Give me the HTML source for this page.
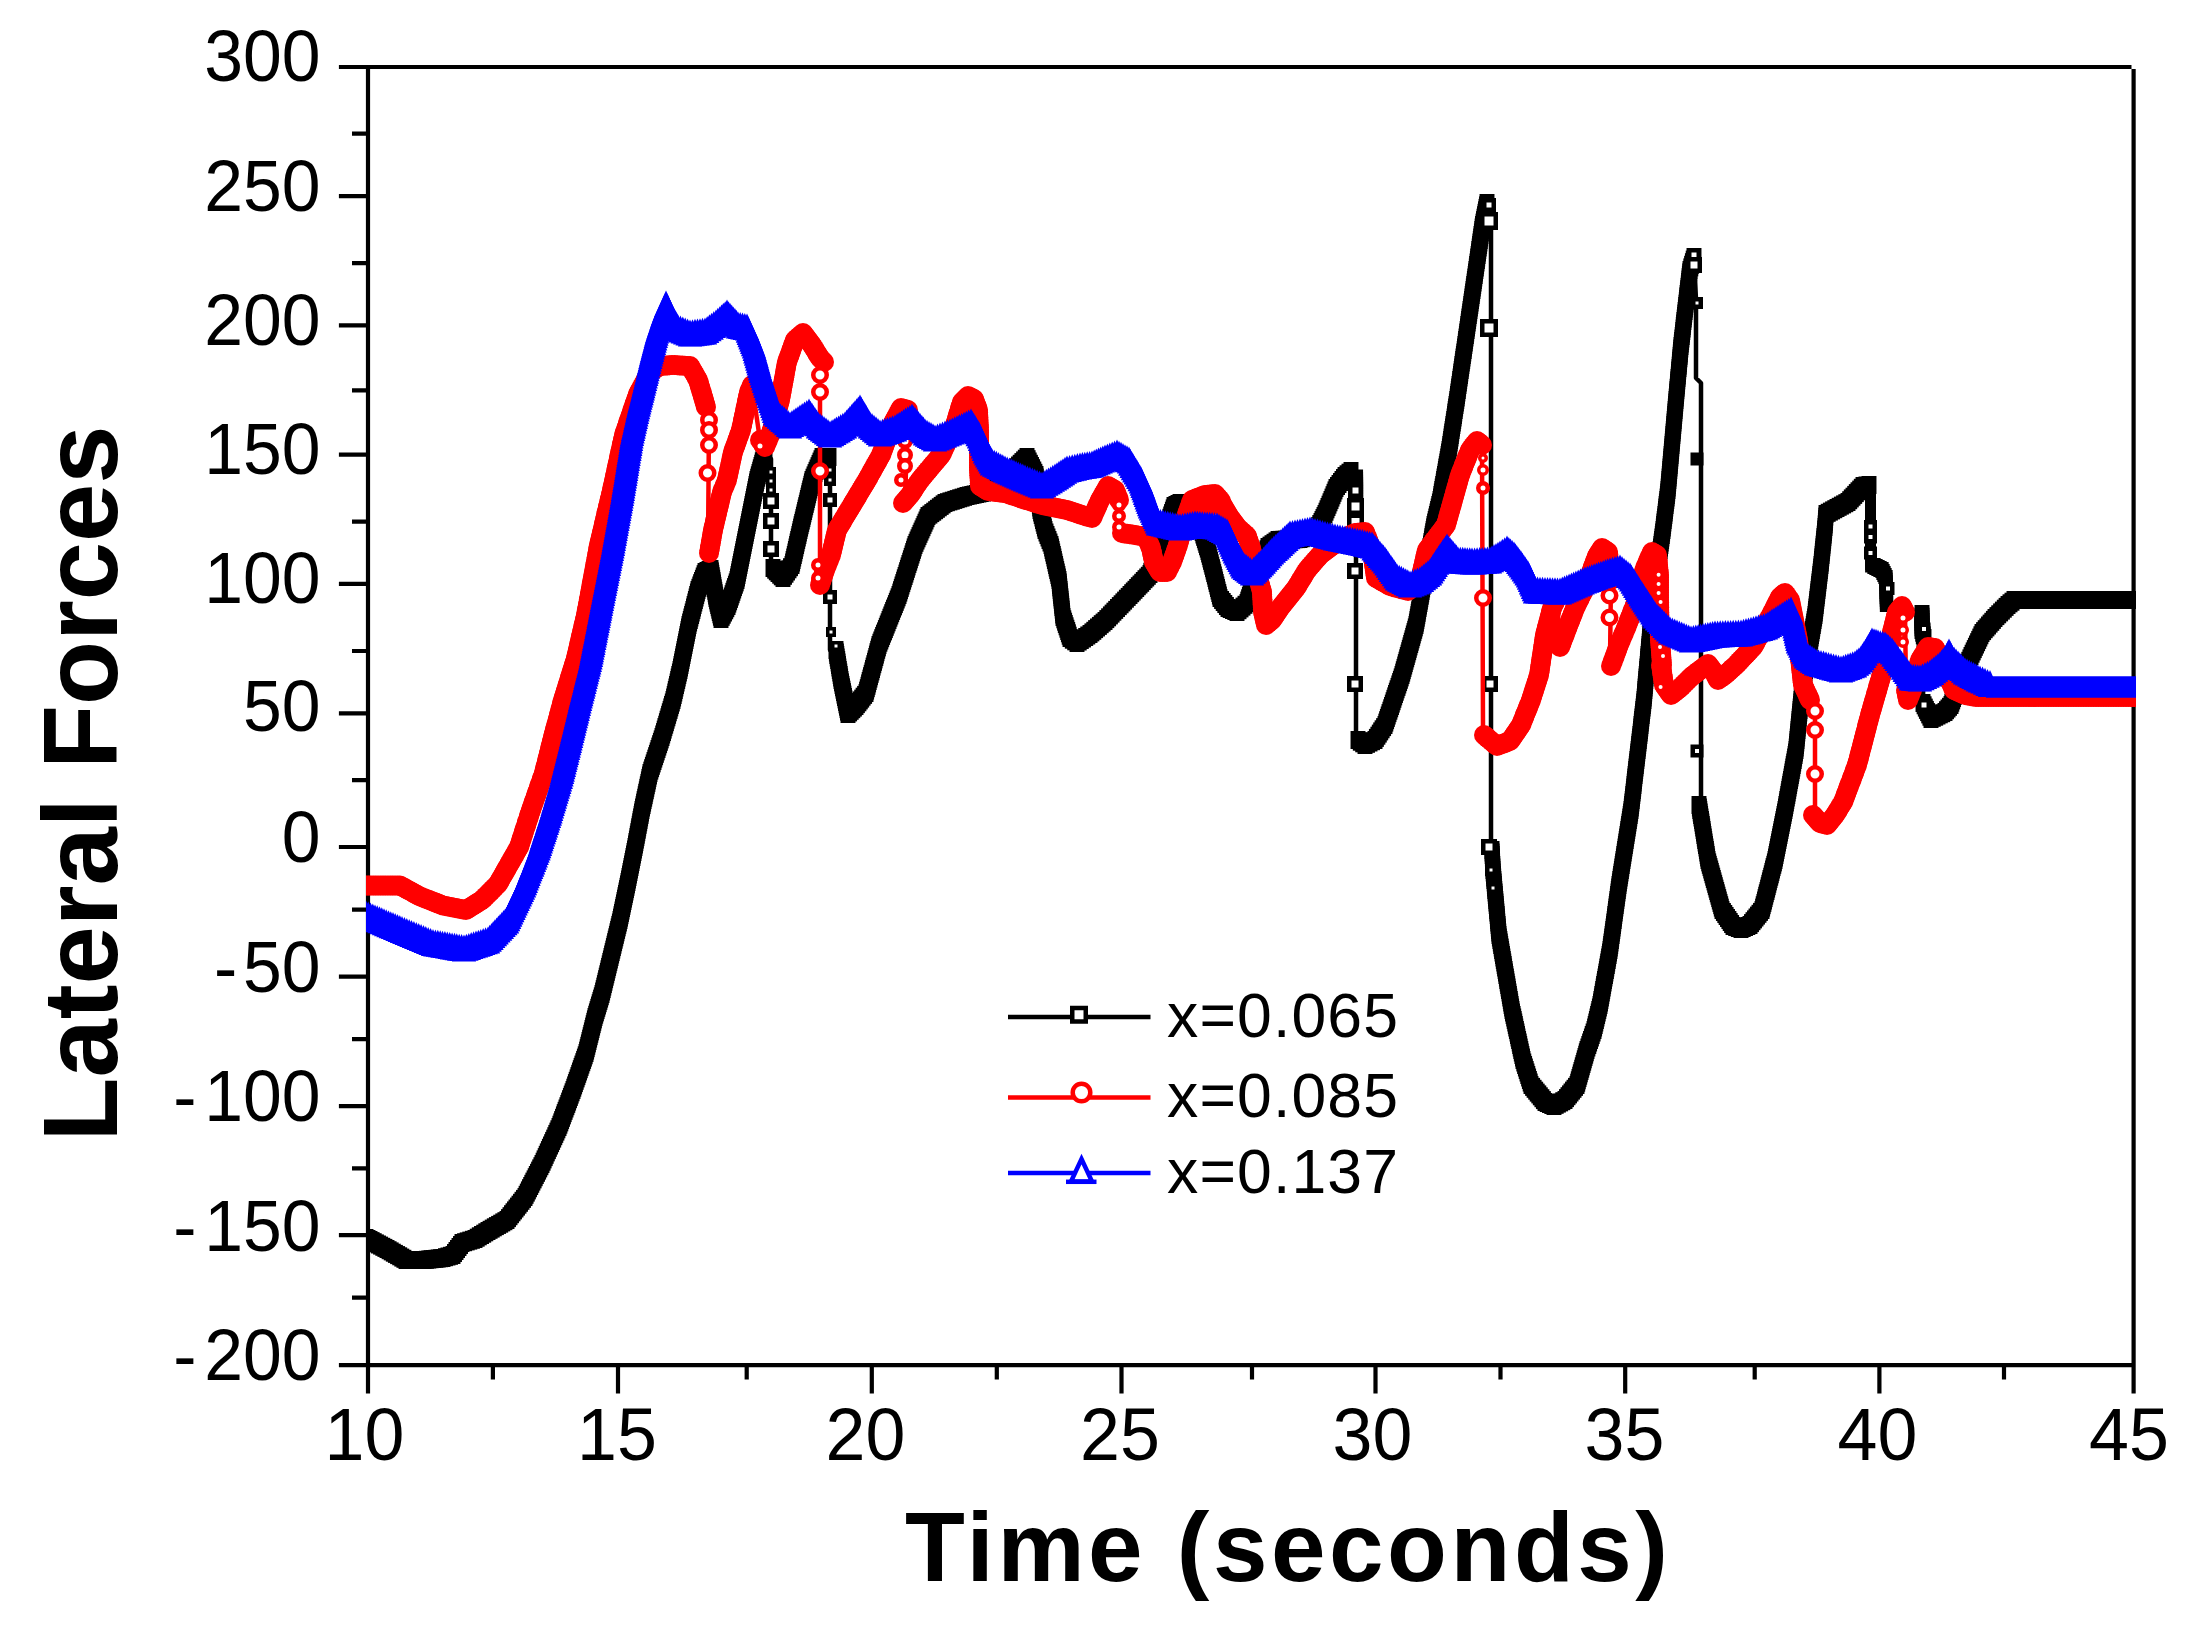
<!DOCTYPE html>
<html lang="en"><head><meta charset="utf-8"><title>Lateral Forces vs Time</title>
<style>html,body{margin:0;padding:0;background:#fff}svg{display:block}text{font-family:"Liberation Sans",sans-serif;fill:#000}</style></head><body>
<svg width="2188" height="1634" viewBox="0 0 2188 1634">
<rect width="2188" height="1634" fill="#fff"/>
<defs><clipPath id="pc"><rect x="365.9" y="60" width="1770.1" height="1310"/></clipPath></defs>
<defs><marker id="k18" markerUnits="userSpaceOnUse" markerWidth="20" markerHeight="20" viewBox="-10 -10 20 20" refX="0" refY="0" orient="0" overflow="visible"><rect x="-7.47" y="-9" width="14.94" height="18" fill="#000"/></marker><marker id="k17" markerUnits="userSpaceOnUse" markerWidth="19" markerHeight="19" viewBox="-9.5 -9.5 19 19" refX="0" refY="0" orient="0" overflow="visible"><rect x="-7.055" y="-8.5" width="14.11" height="17" fill="#000"/></marker><marker id="k13" markerUnits="userSpaceOnUse" markerWidth="15" markerHeight="15" viewBox="-7.5 -7.5 15 15" refX="0" refY="0" orient="0" overflow="visible"><rect x="-5.395" y="-6.5" width="10.79" height="13" fill="#000"/></marker><marker id="k16" markerUnits="userSpaceOnUse" markerWidth="18" markerHeight="18" viewBox="-9 -9 18 18" refX="0" refY="0" orient="0" overflow="visible"><rect x="-6.64" y="-8" width="13.28" height="16" fill="#000"/></marker><marker id="r20" markerUnits="userSpaceOnUse" markerWidth="22" markerHeight="22" viewBox="-11 -11 22 22" refX="0" refY="0" orient="0" overflow="visible"><circle r="10" fill="#f00"/></marker><marker id="b27" markerUnits="userSpaceOnUse" markerWidth="29" markerHeight="29" viewBox="-14.5 -14.5 29 29" refX="0" refY="0" orient="0" overflow="visible"><path d="M0,-13.5 L12.15,13.5 H-12.15 Z" fill="#00f"/></marker></defs>
<g stroke="#000" stroke-width="4.2" fill="none" stroke-linecap="butt">
<path d="M338.9,67 H2131.5 M368,64.9 V1393.5 M338.9,1365.1 H2135.7 M2133.6,69 V1393.5"/>
<path d="M338.9,196.2 H368 M338.9,325.4 H368 M338.9,454.7 H368 M338.9,583.9 H368 M338.9,713.4 H368 M338.9,847 H368 M338.9,976.7 H368 M338.9,1106.2 H368 M338.9,1235.2 H368 M352,133.7 H368 M352,263.2 H368 M352,390.3 H368 M352,521.7 H368 M352,651 H368 M352,780.2 H368 M352,909.6 H368 M352,1039.2 H368 M352,1168.4 H368 M352,1297.7 H368 M618,1365 V1393.5 M871.8,1365 V1393.5 M1121.5,1365 V1393.5 M1375.5,1365 V1393.5 M1625.2,1365 V1393.5 M1879.4,1365 V1393.5 M492.9,1365 V1379.5 M746.7,1365 V1379.5 M996.8,1365 V1379.5 M1252,1365 V1379.5 M1500.5,1365 V1379.5 M1754.7,1365 V1379.5 M2004,1365 V1379.5"/>
</g>
<g clip-path="url(#pc)">
<polyline fill="none" stroke="#000" stroke-width="4.5" stroke-linejoin="round" points="366,1238 370,1240 387,1249 406,1260 424,1260 443,1258 453,1255 462,1243 475,1239 488,1231 507,1220 525,1197 542,1164 559,1127 573,1090 586,1053 595,1017 602,994 611,957 620,920 628,882 635,847 642,810 650,773 662,737 673,700 680,670 689,625 698,590 705,572 711,569 716,598 721,619 728,606 737,580 747,530 757,480 765,452 765,452 771,459 771,560 773,568 783,578 792,565 800,530 812,480 822,457 829,457 829,457 830,470 830,650 836,650 841,680 848,714 856,706 866,693 879,645 899,595 915,545 928,516 945,503 967,496 986,492 1010,474 1027,457 1036,475 1040,510 1045,530 1051,545 1059,580 1063,617 1070,638 1077,643 1090,634 1105,621 1130,595 1150,574 1165,532 1174,506 1180,503 1190,506 1200,525 1208,551 1215,578 1220,598 1228,608 1237,612 1247,603 1258,570 1268,547 1278,540 1300,539 1314,534 1321,522 1325,514 1331,500 1336,488 1345,476 1351,471 1356,478 1356,526 1356,526 1356,738 1358,740 1365,745 1375,740 1385,725 1402,675 1416,625 1434,525 1440,500 1449,450 1456.8,400 1471.5,300 1482.5,225 1487,203 1487,203 1491,215 1491,845 1492,850 1493,870 1499,935 1512,1010 1523,1060 1531,1085 1545,1102 1554,1106 1565,1100 1577,1085 1587,1050 1594,1030 1600,1005 1610,950 1619,885 1631,810 1644,700 1653,600 1663,530 1668,490 1676,400 1681,346 1685.7,306 1690,270 1694,257 1694,257 1696,300 1696,378 1701,383 1701,800 1699,805 1708,860 1722,910 1733,926 1741,929 1750,925 1762,910 1775,860 1785,810 1796,750 1802,690 1815,615 1821,565 1825,527 1826,514 1848,502 1863,486 1869,485 1870.5,490 1870.5,566 1874,566 1882,570 1886,578 1886.5,604 1887,608 1915,612 1922,614 1922,630 1924,638 1924,640 1923,700 1923,703 1931,719 1945,712 1951,705 1962,675 1971,656 1982,633 1995,618 2008,605 2014,600 2133,600"/>
<polyline fill="none" stroke="#000" stroke-width="4.5" marker-start="url(#k18)" marker-mid="url(#k18)" marker-end="url(#k18)" points="366,1238 368,1239 370,1240 372.1,1241.1 374.2,1242.2 376.4,1243.4 378.5,1244.5 380.6,1245.6 382.8,1246.8 384.9,1247.9 387,1249 389.1,1250.2 391.2,1251.4 393.3,1252.7 395.4,1253.9 397.6,1255.1 399.7,1256.3 401.8,1257.6 403.9,1258.8 406,1260 408.6,1260 411.1,1260 413.7,1260 416.3,1260 418.9,1260 421.4,1260 424,1260 426.4,1259.8 428.8,1259.5 431.1,1259.2 433.5,1259 435.9,1258.8 438.2,1258.5 440.6,1258.2 443,1258 445.5,1257.2 448,1256.5 450.5,1255.8 453,1255 454.5,1253 456,1251 457.5,1249 459,1247 460.5,1245 462,1243 464.6,1242.2 467.2,1241.4 469.8,1240.6 472.4,1239.8 475,1239 477.2,1237.7 479.3,1236.3 481.5,1235 483.7,1233.7 485.8,1232.3 488,1231 490.1,1229.8 492.2,1228.6 494.3,1227.3 496.4,1226.1 498.6,1224.9 500.7,1223.7 502.8,1222.4 504.9,1221.2 507,1220 508.5,1218.1 510,1216.2 511.5,1214.2 513,1212.3 514.5,1210.4 516,1208.5 517.5,1206.6 519,1204.7 520.5,1202.8 522,1200.8 523.5,1198.9 525,1197 526.1,1194.8 527.3,1192.6 528.4,1190.4 529.5,1188.2 530.7,1186 531.8,1183.8 532.9,1181.6 534.1,1179.4 535.2,1177.2 536.3,1175 537.5,1172.8 538.6,1170.6 539.7,1168.4 540.9,1166.2 542,1164 543.1,1161.7 544.1,1159.4 545.2,1157.1 546.2,1154.8 547.3,1152.4 548.4,1150.1 549.4,1147.8 550.5,1145.5 551.6,1143.2 552.6,1140.9 553.7,1138.6 554.8,1136.2 555.8,1133.9 556.9,1131.6 557.9,1129.3 559,1127 559.9,1124.7 560.8,1122.4 561.6,1120.1 562.5,1117.8 563.4,1115.4 564.2,1113.1 565.1,1110.8 566,1108.5 566.9,1106.2 567.8,1103.9 568.6,1101.6 569.5,1099.2 570.4,1096.9 571.2,1094.6 572.1,1092.3 573,1090 573.8,1087.7 574.6,1085.4 575.4,1083.1 576.2,1080.8 577.1,1078.4 577.9,1076.1 578.7,1073.8 579.5,1071.5 580.3,1069.2 581.1,1066.9 581.9,1064.6 582.8,1062.2 583.6,1059.9 584.4,1057.6 585.2,1055.3 586,1053 586.6,1050.6 587.2,1048.2 587.8,1045.8 588.4,1043.4 589,1041 589.6,1038.6 590.2,1036.2 590.8,1033.8 591.4,1031.4 592,1029 592.6,1026.6 593.2,1024.2 593.8,1021.8 594.4,1019.4 595,1017 595.7,1014.7 596.4,1012.4 597.1,1010.1 597.8,1007.8 598.5,1005.5 599.2,1003.2 599.9,1000.9 600.6,998.6 601.3,996.3 602,994 602.6,991.5 603.2,989.1 603.8,986.6 604.4,984.1 605,981.7 605.6,979.2 606.2,976.7 606.8,974.3 607.4,971.8 608,969.3 608.6,966.9 609.2,964.4 609.8,961.9 610.4,959.5 611,957 611.6,954.5 612.2,952.1 612.8,949.6 613.4,947.1 614,944.7 614.6,942.2 615.2,939.7 615.8,937.3 616.4,934.8 617,932.3 617.6,929.9 618.2,927.4 618.8,924.9 619.4,922.5 620,920 620.5,917.6 621,915.2 621.5,912.9 622,910.5 622.5,908.1 623,905.8 623.5,903.4 624,901 624.5,898.6 625,896.2 625.5,893.9 626,891.5 626.5,889.1 627,886.8 627.5,884.4 628,882 628.5,879.5 629,877 629.5,874.5 630,872 630.5,869.5 631,867 631.5,864.5 632,862 632.5,859.5 633,857 633.5,854.5 634,852 634.5,849.5 635,847 635.5,844.5 635.9,842.1 636.4,839.6 636.9,837.1 637.3,834.7 637.8,832.2 638.3,829.7 638.7,827.3 639.2,824.8 639.7,822.3 640.1,819.9 640.6,817.4 641.1,814.9 641.5,812.5 642,810 642.5,807.5 643.1,805.1 643.6,802.6 644.1,800.1 644.7,797.7 645.2,795.2 645.7,792.7 646.3,790.3 646.8,787.8 647.3,785.3 647.9,782.9 648.4,780.4 648.9,777.9 649.5,775.5 650,773 650.8,770.6 651.6,768.2 652.4,765.8 653.2,763.4 654,761 654.8,758.6 655.6,756.2 656.4,753.8 657.2,751.4 658,749 658.8,746.6 659.6,744.2 660.4,741.8 661.2,739.4 662,737 662.7,734.5 663.5,732.1 664.2,729.6 664.9,727.1 665.7,724.7 666.4,722.2 667.1,719.7 667.9,717.3 668.6,714.8 669.3,712.3 670.1,709.9 670.8,707.4 671.5,704.9 672.3,702.5 673,700 673.6,697.5 674.2,695 674.8,692.5 675.3,690 675.9,687.5 676.5,685 677.1,682.5 677.7,680 678.2,677.5 678.8,675 679.4,672.5 680,670 680.5,667.5 681,665 681.5,662.5 682,660 682.5,657.5 683,655 683.5,652.5 684,650 684.5,647.5 685,645 685.5,642.5 686,640 686.5,637.5 687,635 687.5,632.5 688,630 688.5,627.5 689,625 689.6,622.5 690.3,620 690.9,617.5 691.6,615 692.2,612.5 692.9,610 693.5,607.5 694.1,605 694.8,602.5 695.4,600 696.1,597.5 696.7,595 697.4,592.5 698,590 698.9,587.8 699.8,585.5 700.6,583.2 701.5,581 702.4,578.8 703.2,576.5 704.1,574.2 705,572 707,571 709,570 711,569 711.4,571.4 711.8,573.8 712.2,576.2 712.7,578.7 713.1,581.1 713.5,583.5 713.9,585.9 714.3,588.3 714.8,590.8 715.2,593.2 715.6,595.6 716,598 716.6,600.3 717.1,602.7 717.7,605 718.2,607.3 718.8,609.7 719.3,612 719.9,614.3 720.4,616.7 721,619 722.2,616.8 723.3,614.7 724.5,612.5 725.7,610.3 726.8,608.2 728,606 728.8,603.6 729.6,601.3 730.5,598.9 731.3,596.5 732.1,594.2 732.9,591.8 733.7,589.5 734.5,587.1 735.4,584.7 736.2,582.4 737,580 737.5,577.5 738,575 738.5,572.5 739,570 739.5,567.5 740,565 740.5,562.5 741,560 741.5,557.5 742,555 742.5,552.5 743,550 743.5,547.5 744,545 744.5,542.5 745,540 745.5,537.5 746,535 746.5,532.5 747,530 747.5,527.5 748,525 748.5,522.5 749,520 749.5,517.5 750,515 750.5,512.5 751,510 751.5,507.5 752,505 752.5,502.5 753,500 753.5,497.5 754,495 754.5,492.5 755,490 755.5,487.5 756,485 756.5,482.5 757,480 757.7,477.7 758.3,475.3 759,473 759.7,470.7 760.3,468.3 761,466 761.7,463.7 762.3,461.3 763,459 763.7,456.7 764.3,454.3 765,452"/>
<polyline fill="none" stroke="#000" stroke-width="4.5" marker-start="url(#k18)" marker-mid="url(#k18)" marker-end="url(#k18)" points="773,568 774.7,569.7 776.3,571.3 778,573 779.7,574.7 781.3,576.3 783,578 784.5,575.8 786,573.7 787.5,571.5 789,569.3 790.5,567.2 792,565 792.6,562.5 793.1,560 793.7,557.5 794.3,555 794.9,552.5 795.4,550 796,547.5 796.6,545 797.1,542.5 797.7,540 798.3,537.5 798.9,535 799.4,532.5 800,530 800.6,527.6 801.1,525.2 801.7,522.9 802.3,520.5 802.9,518.1 803.4,515.7 804,513.3 804.6,511 805.1,508.6 805.7,506.2 806.3,503.8 806.9,501.4 807.4,499 808,496.7 808.6,494.3 809.1,491.9 809.7,489.5 810.3,487.1 810.9,484.8 811.4,482.4 812,480 813,477.7 814,475.4 815,473.1 816,470.8 817,468.5 818,466.2 819,463.9 820,461.6 821,459.3 822,457 824.3,457 826.7,457 829,457"/>
<polyline fill="none" stroke="#000" stroke-width="4.5" marker-start="url(#k18)" marker-mid="url(#k18)" marker-end="url(#k18)" points="836,650 836.4,652.5 836.8,655 837.2,657.5 837.7,660 838.1,662.5 838.5,665 838.9,667.5 839.3,670 839.8,672.5 840.2,675 840.6,677.5 841,680 841.5,682.4 842,684.9 842.5,687.3 843,689.7 843.5,692.1 844,694.6 844.5,697 845,699.4 845.5,701.9 846,704.3 846.5,706.7 847,709.1 847.5,711.6 848,714 849.6,712.4 851.2,710.8 852.8,709.2 854.4,707.6 856,706 857.4,704.1 858.9,702.3 860.3,700.4 861.7,698.6 863.1,696.7 864.6,694.9 866,693 866.6,690.6 867.3,688.2 868,685.8 868.6,683.4 869.2,681 869.9,678.6 870.5,676.2 871.2,673.8 871.9,671.4 872.5,669 873.1,666.6 873.8,664.2 874.5,661.8 875.1,659.4 875.8,657 876.4,654.6 877,652.2 877.7,649.8 878.4,647.4 879,645 879.9,642.7 880.8,640.5 881.7,638.2 882.6,635.9 883.5,633.6 884.5,631.4 885.4,629.1 886.3,626.8 887.2,624.5 888.1,622.3 889,620 889.9,617.7 890.8,615.5 891.7,613.2 892.6,610.9 893.5,608.6 894.5,606.4 895.4,604.1 896.3,601.8 897.2,599.5 898.1,597.3 899,595 899.8,592.6 900.5,590.2 901.3,587.9 902,585.5 902.8,583.1 903.6,580.7 904.3,578.3 905.1,576 905.9,573.6 906.6,571.2 907.4,568.8 908.1,566.4 908.9,564 909.7,561.7 910.4,559.3 911.2,556.9 912,554.5 912.7,552.1 913.5,549.8 914.2,547.4 915,545 916,542.8 917,540.5 918,538.3 919,536.1 920,533.8 921,531.6 922,529.4 923,527.2 924,524.9 925,522.7 926,520.5 927,518.2 928,516 929.9,514.6 931.8,513.1 933.7,511.7 935.6,510.2 937.4,508.8 939.3,507.3 941.2,505.9 943.1,504.4 945,503 947.4,502.2 949.9,501.4 952.3,500.7 954.8,499.9 957.2,499.1 959.7,498.3 962.1,497.6 964.6,496.8 967,496 969.4,495.5 971.8,495 974.1,494.5 976.5,494 978.9,493.5 981.2,493 983.6,492.5 986,492 988,490.5 990,489 992,487.5 994,486 996,484.5 998,483 1000,481.5 1002,480 1004,478.5 1006,477 1008,475.5 1010,474 1011.7,472.3 1013.4,470.6 1015.1,468.9 1016.8,467.2 1018.5,465.5 1020.2,463.8 1021.9,462.1 1023.6,460.4 1025.3,458.7 1027,457 1028.1,459.2 1029.2,461.5 1030.4,463.8 1031.5,466 1032.6,468.2 1033.8,470.5 1034.9,472.8 1036,475 1036.3,477.5 1036.6,480 1036.9,482.5 1037.1,485 1037.4,487.5 1037.7,490 1038,492.5 1038.3,495 1038.6,497.5 1038.9,500 1039.1,502.5 1039.4,505 1039.7,507.5 1040,510 1040.6,512.5 1041.2,515 1041.9,517.5 1042.5,520 1043.1,522.5 1043.8,525 1044.4,527.5 1045,530 1046,532.5 1047,535 1048,537.5 1049,540 1050,542.5 1051,545 1051.6,547.5 1052.1,550 1052.7,552.5 1053.3,555 1053.9,557.5 1054.4,560 1055,562.5 1055.6,565 1056.1,567.5 1056.7,570 1057.3,572.5 1057.9,575 1058.4,577.5 1059,580 1059.3,582.5 1059.5,584.9 1059.8,587.4 1060.1,589.9 1060.3,592.3 1060.6,594.8 1060.9,597.3 1061.1,599.7 1061.4,602.2 1061.7,604.7 1061.9,607.1 1062.2,609.6 1062.5,612.1 1062.7,614.5 1063,617 1063.8,619.3 1064.6,621.7 1065.3,624 1066.1,626.3 1066.9,628.7 1067.7,631 1068.4,633.3 1069.2,635.7 1070,638 1072.3,639.7 1074.7,641.3 1077,643 1079.2,641.5 1081.3,640 1083.5,638.5 1085.7,637 1087.8,635.5 1090,634 1091.9,632.4 1093.8,630.8 1095.6,629.1 1097.5,627.5 1099.4,625.9 1101.2,624.2 1103.1,622.6 1105,621 1106.8,619.1 1108.6,617.3 1110.4,615.4 1112.1,613.6 1113.9,611.7 1115.7,609.9 1117.5,608 1119.3,606.1 1121.1,604.3 1122.9,602.4 1124.6,600.6 1126.4,598.7 1128.2,596.9 1130,595 1131.7,593.2 1133.3,591.5 1135,589.8 1136.7,588 1138.3,586.2 1140,584.5 1141.7,582.8 1143.3,581 1145,579.2 1146.7,577.5 1148.3,575.8 1150,574 1150.8,571.7 1151.7,569.3 1152.5,567 1153.3,564.7 1154.2,562.3 1155,560 1155.8,557.7 1156.7,555.3 1157.5,553 1158.3,550.7 1159.2,548.3 1160,546 1160.8,543.7 1161.7,541.3 1162.5,539 1163.3,536.7 1164.2,534.3 1165,532 1165.8,529.6 1166.6,527.3 1167.5,524.9 1168.3,522.5 1169.1,520.2 1169.9,517.8 1170.7,515.5 1171.5,513.1 1172.4,510.7 1173.2,508.4 1174,506 1176,505 1178,504 1180,503 1182.5,503.8 1185,504.5 1187.5,505.2 1190,506 1191.1,508.1 1192.2,510.2 1193.3,512.3 1194.4,514.4 1195.6,516.6 1196.7,518.7 1197.8,520.8 1198.9,522.9 1200,525 1200.7,527.4 1201.5,529.7 1202.2,532.1 1202.9,534.5 1203.6,536.8 1204.4,539.2 1205.1,541.5 1205.8,543.9 1206.5,546.3 1207.3,548.6 1208,551 1208.6,553.5 1209.3,555.9 1209.9,558.4 1210.5,560.8 1211.2,563.3 1211.8,565.7 1212.5,568.2 1213.1,570.6 1213.7,573.1 1214.4,575.5 1215,578 1215.6,580.5 1216.2,583 1216.9,585.5 1217.5,588 1218.1,590.5 1218.8,593 1219.4,595.5 1220,598 1221.6,600 1223.2,602 1224.8,604 1226.4,606 1228,608 1230.2,609 1232.5,610 1234.8,611 1237,612 1239,610.2 1241,608.4 1243,606.6 1245,604.8 1247,603 1247.8,600.6 1248.6,598.3 1249.4,595.9 1250.1,593.6 1250.9,591.2 1251.7,588.9 1252.5,586.5 1253.3,584.1 1254.1,581.8 1254.9,579.4 1255.6,577.1 1256.4,574.7 1257.2,572.4 1258,570 1259,567.7 1260,565.4 1261,563.1 1262,560.8 1263,558.5 1264,556.2 1265,553.9 1266,551.6 1267,549.3 1268,547 1270,545.6 1272,544.2 1274,542.8 1276,541.4 1278,540 1280.4,539.9 1282.9,539.8 1285.3,539.7 1287.8,539.6 1290.2,539.4 1292.7,539.3 1295.1,539.2 1297.6,539.1 1300,539 1302.3,538.2 1304.7,537.3 1307,536.5 1309.3,535.7 1311.7,534.8 1314,534 1315.2,532 1316.3,530 1317.5,528 1318.7,526 1319.8,524 1321,522 1322,520 1323,518 1324,516 1325,514 1326,511.7 1327,509.3 1328,507 1329,504.7 1330,502.3 1331,500 1332,497.6 1333,495.2 1334,492.8 1335,490.4 1336,488 1337.5,486 1339,484 1340.5,482 1342,480 1343.5,478 1345,476 1347,474.3 1349,472.7 1351,471"/>
<polyline fill="none" stroke="#000" stroke-width="4.5" marker-start="url(#k17)" marker-mid="url(#k17)" marker-end="url(#k17)" points="1356,478 1356,480.5 1356,483.1 1356,485.6 1356,488.1 1356,490.6 1356,493.2 1356,495.7 1356,498.2 1356,500.7 1356,503.3 1356,505.8 1356,508.3 1356,510.8 1356,513.4 1356,515.9 1356,518.4 1356,520.9 1356,523.5 1356,526"/>
<polyline fill="none" stroke="#000" stroke-width="4.5" marker-start="url(#k18)" marker-mid="url(#k18)" marker-end="url(#k18)" points="1358,740 1360.3,741.7 1362.7,743.3 1365,745 1367.5,743.8 1370,742.5 1372.5,741.2 1375,740 1376.4,737.9 1377.9,735.7 1379.3,733.6 1380.7,731.4 1382.1,729.3 1383.6,727.1 1385,725 1385.8,722.6 1386.6,720.2 1387.4,717.9 1388.2,715.5 1389,713.1 1389.9,710.7 1390.7,708.3 1391.5,706 1392.3,703.6 1393.1,701.2 1393.9,698.8 1394.7,696.4 1395.5,694 1396.3,691.7 1397.1,689.3 1398,686.9 1398.8,684.5 1399.6,682.1 1400.4,679.8 1401.2,677.4 1402,675 1402.7,672.6 1403.3,670.2 1404,667.9 1404.7,665.5 1405.3,663.1 1406,660.7 1406.7,658.3 1407.3,656 1408,653.6 1408.7,651.2 1409.3,648.8 1410,646.4 1410.7,644 1411.3,641.7 1412,639.3 1412.7,636.9 1413.3,634.5 1414,632.1 1414.7,629.8 1415.3,627.4 1416,625 1416.4,622.6 1416.9,620.1 1417.3,617.7 1417.8,615.2 1418.2,612.8 1418.6,610.4 1419.1,607.9 1419.5,605.5 1420,603 1420.4,600.6 1420.8,598.2 1421.3,595.7 1421.7,593.3 1422.1,590.9 1422.6,588.4 1423,586 1423.5,583.5 1423.9,581.1 1424.3,578.7 1424.8,576.2 1425.2,573.8 1425.7,571.3 1426.1,568.9 1426.5,566.5 1427,564 1427.4,561.6 1427.9,559.1 1428.3,556.7 1428.7,554.3 1429.2,551.8 1429.6,549.4 1430,547 1430.5,544.5 1430.9,542.1 1431.4,539.6 1431.8,537.2 1432.2,534.8 1432.7,532.3 1433.1,529.9 1433.6,527.4 1434,525 1434.6,522.5 1435.2,520 1435.8,517.5 1436.4,515 1437,512.5 1437.6,510 1438.2,507.5 1438.8,505 1439.4,502.5 1440,500 1440.5,497.5 1440.9,495 1441.3,492.5 1441.8,490 1442.2,487.5 1442.7,485 1443.2,482.5 1443.6,480 1444,477.5 1444.5,475 1445,472.5 1445.4,470 1445.8,467.5 1446.3,465 1446.8,462.5 1447.2,460 1447.7,457.5 1448.1,455 1448.5,452.5 1449,450 1449.4,447.5 1449.8,445 1450.2,442.5 1450.6,440 1451,437.5 1451.3,435 1451.7,432.5 1452.1,430 1452.5,427.5 1452.9,425 1453.3,422.5 1453.7,420 1454.1,417.5 1454.5,415 1454.8,412.5 1455.2,410 1455.6,407.5 1456,405 1456.4,402.5 1456.8,400 1457.2,397.5 1457.5,395 1457.9,392.5 1458.3,390 1458.6,387.5 1459,385 1459.4,382.5 1459.7,380 1460.1,377.5 1460.5,375 1460.8,372.5 1461.2,370 1461.6,367.5 1461.9,365 1462.3,362.5 1462.7,360 1463,357.5 1463.4,355 1463.8,352.5 1464.2,350 1464.5,347.5 1464.9,345 1465.3,342.5 1465.6,340 1466,337.5 1466.4,335 1466.7,332.5 1467.1,330 1467.5,327.5 1467.8,325 1468.2,322.5 1468.6,320 1468.9,317.5 1469.3,315 1469.7,312.5 1470,310 1470.4,307.5 1470.8,305 1471.1,302.5 1471.5,300 1471.9,297.5 1472.2,295 1472.6,292.5 1473,290 1473.3,287.5 1473.7,285 1474.1,282.5 1474.4,280 1474.8,277.5 1475.2,275 1475.5,272.5 1475.9,270 1476.3,267.5 1476.6,265 1477,262.5 1477.4,260 1477.7,257.5 1478.1,255 1478.5,252.5 1478.8,250 1479.2,247.5 1479.6,245 1479.9,242.5 1480.3,240 1480.7,237.5 1481,235 1481.4,232.5 1481.8,230 1482.1,227.5 1482.5,225 1483,222.6 1483.5,220.1 1484,217.7 1484.5,215.2 1485,212.8 1485.5,210.3 1486,207.9 1486.5,205.4 1487,203"/>
<polyline fill="none" stroke="#000" stroke-width="4.5" marker-start="url(#k18)" marker-mid="url(#k18)" marker-end="url(#k18)" points="1492,850 1492.1,852.5 1492.2,855 1492.4,857.5 1492.5,860 1492.6,862.5 1492.8,865 1492.9,867.5 1493,870 1493.2,872.5 1493.5,875 1493.7,877.5 1493.9,880 1494.2,882.5 1494.4,885 1494.6,887.5 1494.8,890 1495.1,892.5 1495.3,895 1495.5,897.5 1495.8,900 1496,902.5 1496.2,905 1496.5,907.5 1496.7,910 1496.9,912.5 1497.2,915 1497.4,917.5 1497.6,920 1497.8,922.5 1498.1,925 1498.3,927.5 1498.5,930 1498.8,932.5 1499,935 1499.4,937.5 1499.9,940 1500.3,942.5 1500.7,945 1501.2,947.5 1501.6,950 1502,952.5 1502.5,955 1502.9,957.5 1503.3,960 1503.8,962.5 1504.2,965 1504.6,967.5 1505.1,970 1505.5,972.5 1505.9,975 1506.4,977.5 1506.8,980 1507.2,982.5 1507.7,985 1508.1,987.5 1508.5,990 1509,992.5 1509.4,995 1509.8,997.5 1510.3,1000 1510.7,1002.5 1511.1,1005 1511.6,1007.5 1512,1010 1512.5,1012.5 1513.1,1015 1513.7,1017.5 1514.2,1020 1514.8,1022.5 1515.3,1025 1515.8,1027.5 1516.4,1030 1517,1032.5 1517.5,1035 1518,1037.5 1518.6,1040 1519.2,1042.5 1519.7,1045 1520.2,1047.5 1520.8,1050 1521.3,1052.5 1521.9,1055 1522.5,1057.5 1523,1060 1523.8,1062.5 1524.6,1065 1525.4,1067.5 1526.2,1070 1527,1072.5 1527.8,1075 1528.6,1077.5 1529.4,1080 1530.2,1082.5 1531,1085 1532.6,1086.9 1534.1,1088.8 1535.7,1090.7 1537.2,1092.6 1538.8,1094.4 1540.3,1096.3 1541.9,1098.2 1543.4,1100.1 1545,1102 1547.2,1103 1549.5,1104 1551.8,1105 1554,1106 1556.2,1104.8 1558.4,1103.6 1560.6,1102.4 1562.8,1101.2 1565,1100 1566.5,1098.1 1568,1096.2 1569.5,1094.4 1571,1092.5 1572.5,1090.6 1574,1088.8 1575.5,1086.9 1577,1085 1577.7,1082.7 1578.3,1080.3 1579,1078 1579.7,1075.7 1580.3,1073.3 1581,1071 1581.7,1068.7 1582.3,1066.3 1583,1064 1583.7,1061.7 1584.3,1059.3 1585,1057 1585.7,1054.7 1586.3,1052.3 1587,1050 1587.9,1047.5 1588.8,1045 1589.6,1042.5 1590.5,1040 1591.4,1037.5 1592.2,1035 1593.1,1032.5 1594,1030 1594.6,1027.5 1595.2,1025 1595.8,1022.5 1596.4,1020 1597,1017.5 1597.6,1015 1598.2,1012.5 1598.8,1010 1599.4,1007.5 1600,1005 1600.5,1002.5 1600.9,1000 1601.4,997.5 1601.8,995 1602.3,992.5 1602.7,990 1603.2,987.5 1603.6,985 1604.1,982.5 1604.5,980 1605,977.5 1605.5,975 1605.9,972.5 1606.4,970 1606.8,967.5 1607.3,965 1607.7,962.5 1608.2,960 1608.6,957.5 1609.1,955 1609.5,952.5 1610,950 1610.3,947.5 1610.7,945 1611,942.5 1611.4,940 1611.7,937.5 1612.1,935 1612.4,932.5 1612.8,930 1613.1,927.5 1613.5,925 1613.8,922.5 1614.2,920 1614.5,917.5 1614.8,915 1615.2,912.5 1615.5,910 1615.9,907.5 1616.2,905 1616.6,902.5 1616.9,900 1617.3,897.5 1617.6,895 1618,892.5 1618.3,890 1618.7,887.5 1619,885 1619.4,882.5 1619.8,880 1620.2,877.5 1620.6,875 1621,872.5 1621.4,870 1621.8,867.5 1622.2,865 1622.6,862.5 1623,860 1623.4,857.5 1623.8,855 1624.2,852.5 1624.6,850 1625,847.5 1625.4,845 1625.8,842.5 1626.2,840 1626.6,837.5 1627,835 1627.4,832.5 1627.8,830 1628.2,827.5 1628.6,825 1629,822.5 1629.4,820 1629.8,817.5 1630.2,815 1630.6,812.5 1631,810 1631.3,807.5 1631.6,805 1631.9,802.5 1632.2,800 1632.5,797.5 1632.8,795 1633.1,792.5 1633.4,790 1633.7,787.5 1634,785 1634.2,782.5 1634.5,780 1634.8,777.5 1635.1,775 1635.4,772.5 1635.7,770 1636,767.5 1636.3,765 1636.6,762.5 1636.9,760 1637.2,757.5 1637.5,755 1637.8,752.5 1638.1,750 1638.4,747.5 1638.7,745 1639,742.5 1639.3,740 1639.6,737.5 1639.9,735 1640.2,732.5 1640.5,730 1640.8,727.5 1641,725 1641.3,722.5 1641.6,720 1641.9,717.5 1642.2,715 1642.5,712.5 1642.8,710 1643.1,707.5 1643.4,705 1643.7,702.5 1644,700 1644.2,697.5 1644.5,695 1644.7,692.5 1644.9,690 1645.1,687.5 1645.3,685 1645.6,682.5 1645.8,680 1646,677.5 1646.2,675 1646.5,672.5 1646.7,670 1646.9,667.5 1647.2,665 1647.4,662.5 1647.6,660 1647.8,657.5 1648,655 1648.3,652.5 1648.5,650 1648.7,647.5 1649,645 1649.2,642.5 1649.4,640 1649.6,637.5 1649.8,635 1650.1,632.5 1650.3,630 1650.5,627.5 1650.8,625 1651,622.5 1651.2,620 1651.4,617.5 1651.7,615 1651.9,612.5 1652.1,610 1652.3,607.5 1652.5,605 1652.8,602.5 1653,600 1653.4,597.5 1653.7,595 1654.1,592.5 1654.4,590 1654.8,587.5 1655.1,585 1655.5,582.5 1655.9,580 1656.2,577.5 1656.6,575 1656.9,572.5 1657.3,570 1657.6,567.5 1658,565 1658.4,562.5 1658.7,560 1659.1,557.5 1659.4,555 1659.8,552.5 1660.1,550 1660.5,547.5 1660.9,545 1661.2,542.5 1661.6,540 1661.9,537.5 1662.3,535 1662.6,532.5 1663,530 1663.3,527.5 1663.6,525 1663.9,522.5 1664.2,520 1664.6,517.5 1664.9,515 1665.2,512.5 1665.5,510 1665.8,507.5 1666.1,505 1666.4,502.5 1666.8,500 1667.1,497.5 1667.4,495 1667.7,492.5 1668,490 1668.2,487.5 1668.4,485 1668.7,482.5 1668.9,480 1669.1,477.5 1669.3,475 1669.6,472.5 1669.8,470 1670,467.5 1670.2,465 1670.4,462.5 1670.7,460 1670.9,457.5 1671.1,455 1671.3,452.5 1671.6,450 1671.8,447.5 1672,445 1672.2,442.5 1672.4,440 1672.7,437.5 1672.9,435 1673.1,432.5 1673.3,430 1673.6,427.5 1673.8,425 1674,422.5 1674.2,420 1674.4,417.5 1674.7,415 1674.9,412.5 1675.1,410 1675.3,407.5 1675.6,405 1675.8,402.5 1676,400 1676.2,397.5 1676.5,395.1 1676.7,392.6 1676.9,390.2 1677.1,387.7 1677.4,385.3 1677.6,382.8 1677.8,380.4 1678,377.9 1678.3,375.5 1678.5,373 1678.7,370.5 1679,368.1 1679.2,365.6 1679.4,363.2 1679.6,360.7 1679.9,358.3 1680.1,355.8 1680.3,353.4 1680.5,350.9 1680.8,348.5 1681,346 1681.3,343.5 1681.6,341 1681.9,338.5 1682.2,336 1682.5,333.5 1682.8,331 1683.1,328.5 1683.3,326 1683.6,323.5 1683.9,321 1684.2,318.5 1684.5,316 1684.8,313.5 1685.1,311 1685.4,308.5 1685.7,306 1686,303.6 1686.3,301.2 1686.6,298.8 1686.8,296.4 1687.1,294 1687.4,291.6 1687.7,289.2 1688,286.8 1688.3,284.4 1688.6,282 1688.9,279.6 1689.1,277.2 1689.4,274.8 1689.7,272.4 1690,270 1690.8,267.4 1691.6,264.8 1692.4,262.2 1693.2,259.6 1694,257"/>
<polyline fill="none" stroke="#000" stroke-width="4.5" marker-start="url(#k18)" marker-mid="url(#k18)" marker-end="url(#k18)" points="1699,805 1699.4,807.5 1699.8,810 1700.2,812.5 1700.6,815 1701,817.5 1701.5,820 1701.9,822.5 1702.3,825 1702.7,827.5 1703.1,830 1703.5,832.5 1703.9,835 1704.3,837.5 1704.7,840 1705.1,842.5 1705.5,845 1706,847.5 1706.4,850 1706.8,852.5 1707.2,855 1707.6,857.5 1708,860 1708.7,862.4 1709.3,864.8 1710,867.1 1710.7,869.5 1711.3,871.9 1712,874.3 1712.7,876.7 1713.3,879 1714,881.4 1714.7,883.8 1715.3,886.2 1716,888.6 1716.7,891 1717.3,893.3 1718,895.7 1718.7,898.1 1719.3,900.5 1720,902.9 1720.7,905.2 1721.3,907.6 1722,910 1723.4,912 1724.8,914 1726.1,916 1727.5,918 1728.9,920 1730.2,922 1731.6,924 1733,926 1735.7,927 1738.3,928 1741,929 1743.2,928 1745.5,927 1747.8,926 1750,925 1751.5,923.1 1753,921.2 1754.5,919.4 1756,917.5 1757.5,915.6 1759,913.8 1760.5,911.9 1762,910 1762.6,907.6 1763.2,905.2 1763.9,902.9 1764.5,900.5 1765.1,898.1 1765.7,895.7 1766.3,893.3 1767,891 1767.6,888.6 1768.2,886.2 1768.8,883.8 1769.4,881.4 1770,879 1770.7,876.7 1771.3,874.3 1771.9,871.9 1772.5,869.5 1773.1,867.1 1773.8,864.8 1774.4,862.4 1775,860 1775.5,857.5 1776,855 1776.5,852.5 1777,850 1777.5,847.5 1778,845 1778.5,842.5 1779,840 1779.5,837.5 1780,835 1780.5,832.5 1781,830 1781.5,827.5 1782,825 1782.5,822.5 1783,820 1783.5,817.5 1784,815 1784.5,812.5 1785,810 1785.5,807.5 1785.9,805 1786.4,802.5 1786.8,800 1787.3,797.5 1787.8,795 1788.2,792.5 1788.7,790 1789.1,787.5 1789.6,785 1790,782.5 1790.5,780 1791,777.5 1791.4,775 1791.9,772.5 1792.3,770 1792.8,767.5 1793.2,765 1793.7,762.5 1794.2,760 1794.6,757.5 1795.1,755 1795.5,752.5 1796,750 1796.2,747.5 1796.5,745 1796.8,742.5 1797,740 1797.2,737.5 1797.5,735 1797.8,732.5 1798,730 1798.2,727.5 1798.5,725 1798.8,722.5 1799,720 1799.2,717.5 1799.5,715 1799.8,712.5 1800,710 1800.2,707.5 1800.5,705 1800.8,702.5 1801,700 1801.2,697.5 1801.5,695 1801.8,692.5 1802,690 1802.4,687.5 1802.9,685 1803.3,682.5 1803.7,680 1804.2,677.5 1804.6,675 1805,672.5 1805.5,670 1805.9,667.5 1806.3,665 1806.8,662.5 1807.2,660 1807.6,657.5 1808.1,655 1808.5,652.5 1808.9,650 1809.4,647.5 1809.8,645 1810.2,642.5 1810.7,640 1811.1,637.5 1811.5,635 1812,632.5 1812.4,630 1812.8,627.5 1813.3,625 1813.7,622.5 1814.1,620 1814.6,617.5 1815,615 1815.3,612.5 1815.6,610 1815.9,607.5 1816.2,605 1816.5,602.5 1816.8,600 1817.1,597.5 1817.4,595 1817.7,592.5 1818,590 1818.3,587.5 1818.6,585 1818.9,582.5 1819.2,580 1819.5,577.5 1819.8,575 1820.1,572.5 1820.4,570 1820.7,567.5 1821,565 1821.3,562.5 1821.5,559.9 1821.8,557.4 1822.1,554.9 1822.3,552.3 1822.6,549.8 1822.9,547.3 1823.1,544.7 1823.4,542.2 1823.7,539.7 1823.9,537.1 1824.2,534.6 1824.5,532.1 1824.7,529.5 1825,527 1825.2,524.4 1825.4,521.8 1825.6,519.2 1825.8,516.6 1826,514 1828.2,512.8 1830.4,511.6 1832.6,510.4 1834.8,509.2 1837,508 1839.2,506.8 1841.4,505.6 1843.6,504.4 1845.8,503.2 1848,502 1849.7,500.2 1851.3,498.4 1853,496.7 1854.7,494.9 1856.3,493.1 1858,491.3 1859.7,489.6 1861.3,487.8 1863,486 1866,485.5 1869,485"/>
<polyline fill="none" stroke="#000" stroke-width="4.5" marker-start="url(#k13)" marker-mid="url(#k13)" marker-end="url(#k13)" points="1870.5,490 1870.5,492.5 1870.5,495.1 1870.5,497.6 1870.5,500.1 1870.5,502.7 1870.5,505.2 1870.5,507.7 1870.5,510.3 1870.5,512.8 1870.5,515.3 1870.5,517.9 1870.5,520.4 1870.5,522.9 1870.5,525.5 1870.5,528 1870.5,530.5 1870.5,533.1 1870.5,535.6 1870.5,538.1 1870.5,540.7 1870.5,543.2 1870.5,545.7 1870.5,548.3 1870.5,550.8 1870.5,553.3 1870.5,555.9 1870.5,558.4 1870.5,560.9 1870.5,563.5 1870.5,566"/>
<polyline fill="none" stroke="#000" stroke-width="4.5" marker-start="url(#k16)" marker-mid="url(#k16)" marker-end="url(#k16)" points="1874,566 1876,567 1878,568 1880,569 1882,570 1883,572 1884,574 1885,576 1886,578 1886,580.6 1886.1,583.2 1886.2,585.8 1886.2,588.4 1886.2,591 1886.3,593.6 1886.3,596.2 1886.4,598.8 1886.5,601.4 1886.5,604"/>
<polyline fill="none" stroke="#000" stroke-width="4.5" marker-start="url(#k18)" marker-mid="url(#k18)" marker-end="url(#k18)" points="1922,614 1922,616.7 1922,619.3 1922,622 1922,624.7 1922,627.3 1922,630 1922.7,632.7 1923.3,635.3 1924,638"/>
<polyline fill="none" stroke="#000" stroke-width="4.5" marker-start="url(#k18)" marker-mid="url(#k18)" marker-end="url(#k18)" points="1923,703 1924.1,705.3 1925.3,707.6 1926.4,709.9 1927.6,712.1 1928.7,714.4 1929.9,716.7 1931,719 1933.3,717.8 1935.7,716.7 1938,715.5 1940.3,714.3 1942.7,713.2 1945,712 1946.5,710.2 1948,708.5 1949.5,706.8 1951,705 1951.8,702.7 1952.7,700.4 1953.5,698.1 1954.4,695.8 1955.2,693.5 1956.1,691.2 1956.9,688.8 1957.8,686.5 1958.6,684.2 1959.5,681.9 1960.3,679.6 1961.2,677.3 1962,675 1963.1,672.6 1964.2,670.2 1965.4,667.9 1966.5,665.5 1967.6,663.1 1968.8,660.8 1969.9,658.4 1971,656 1972.1,653.7 1973.2,651.4 1974.3,649.1 1975.4,646.8 1976.5,644.5 1977.6,642.2 1978.7,639.9 1979.8,637.6 1980.9,635.3 1982,633 1983.6,631.1 1985.2,629.2 1986.9,627.4 1988.5,625.5 1990.1,623.6 1991.8,621.8 1993.4,619.9 1995,618 1996.9,616.1 1998.7,614.3 2000.6,612.4 2002.4,610.6 2004.3,608.7 2006.1,606.9 2008,605 2010,603.3 2012,601.7 2014,600 2016.5,600 2019,600 2021.4,600 2023.9,600 2026.4,600 2028.9,600 2031.4,600 2033.8,600 2036.3,600 2038.8,600 2041.3,600 2043.8,600 2046.2,600 2048.7,600 2051.2,600 2053.7,600 2056.1,600 2058.6,600 2061.1,600 2063.6,600 2066.1,600 2068.5,600 2071,600 2073.5,600 2076,600 2078.5,600 2080.9,600 2083.4,600 2085.9,600 2088.4,600 2090.9,600 2093.3,600 2095.8,600 2098.3,600 2100.8,600 2103.2,600 2105.7,600 2108.2,600 2110.7,600 2113.2,600 2115.6,600 2118.1,600 2120.6,600 2123.1,600 2125.6,600 2128,600 2130.5,600 2133,600"/>
<rect x="767.75" y="468.75" width="6.5" height="6.5" fill="#fff" stroke="#000" stroke-width="3.5"/>
<rect x="767.75" y="477.75" width="6.5" height="6.5" fill="#fff" stroke="#000" stroke-width="3.5"/>
<rect x="767.75" y="486.75" width="6.5" height="6.5" fill="#fff" stroke="#000" stroke-width="3.5"/>
<rect x="765.25" y="495.25" width="11.5" height="11.5" fill="#fff" stroke="#000" stroke-width="4.5"/>
<rect x="765.25" y="515.25" width="11.5" height="11.5" fill="#fff" stroke="#000" stroke-width="4.5"/>
<rect x="765.25" y="543.25" width="11.5" height="11.5" fill="#fff" stroke="#000" stroke-width="4.5"/>
<rect x="826.25" y="466.25" width="7.5" height="7.5" fill="#fff" stroke="#000" stroke-width="4.5"/>
<rect x="826.25" y="476.25" width="7.5" height="7.5" fill="#fff" stroke="#000" stroke-width="4.5"/>
<rect x="825.25" y="495.25" width="9.5" height="9.5" fill="#fff" stroke="#000" stroke-width="4.5"/>
<rect x="825.25" y="592.25" width="9.5" height="9.5" fill="#fff" stroke="#000" stroke-width="4.5"/>
<rect x="827.75" y="628.75" width="6.5" height="6.5" fill="#fff" stroke="#000" stroke-width="3.5"/>
<rect x="832.75" y="642.75" width="6.5" height="6.5" fill="#fff" stroke="#000" stroke-width="3.5"/>
<rect x="1350.25" y="485.25" width="10.5" height="10.5" fill="#fff" stroke="#000" stroke-width="4.5"/>
<rect x="1349.25" y="500.25" width="12.5" height="12.5" fill="#fff" stroke="#000" stroke-width="4.5"/>
<rect x="1349.25" y="515.75" width="12.5" height="12.5" fill="#fff" stroke="#000" stroke-width="4.5"/>
<rect x="1349.25" y="565.25" width="11.5" height="11.5" fill="#fff" stroke="#000" stroke-width="4.5"/>
<rect x="1349.25" y="678.25" width="11.5" height="11.5" fill="#fff" stroke="#000" stroke-width="4.5"/>
<rect x="1484.25" y="200.25" width="9.5" height="9.5" fill="#fff" stroke="#000" stroke-width="4.5"/>
<rect x="1482.25" y="214.25" width="13.5" height="13.5" fill="#fff" stroke="#000" stroke-width="4.5"/>
<rect x="1482.25" y="321.25" width="13.5" height="13.5" fill="#fff" stroke="#000" stroke-width="4.5"/>
<rect x="1484.25" y="678.25" width="11.5" height="11.5" fill="#fff" stroke="#000" stroke-width="4.5"/>
<rect x="1483.25" y="841.25" width="11.5" height="11.5" fill="#fff" stroke="#000" stroke-width="4.5"/>
<rect x="1487.25" y="866.25" width="7.5" height="7.5" fill="#fff" stroke="#000" stroke-width="4.5"/>
<rect x="1489.25" y="884.25" width="7.5" height="7.5" fill="#fff" stroke="#000" stroke-width="4.5"/>
<rect x="1689.25" y="250.25" width="9.5" height="9.5" fill="#fff" stroke="#000" stroke-width="4.5"/>
<rect x="1688.25" y="259.25" width="11.5" height="11.5" fill="#fff" stroke="#000" stroke-width="4.5"/>
<rect x="1693.25" y="299.25" width="7.5" height="7.5" fill="#fff" stroke="#000" stroke-width="4.5"/>
<rect x="1692.75" y="746.75" width="8.5" height="8.5" fill="#fff" stroke="#000" stroke-width="4.5"/>
<rect x="1866.25" y="522.25" width="8.5" height="8.5" fill="#fff" stroke="#000" stroke-width="4.5"/>
<rect x="1866.25" y="532.75" width="8.5" height="8.5" fill="#fff" stroke="#000" stroke-width="4.5"/>
<rect x="1866.25" y="548.75" width="8.5" height="8.5" fill="#fff" stroke="#000" stroke-width="4.5"/>
<rect x="1883.75" y="584.25" width="8.5" height="8.5" fill="#fff" stroke="#000" stroke-width="4.5"/>
<rect x="1919.75" y="624.75" width="8.5" height="8.5" fill="#fff" stroke="#000" stroke-width="4.5"/>
<rect x="1919.25" y="700.25" width="9.5" height="9.5" fill="#fff" stroke="#000" stroke-width="4.5"/>
<rect x="1690.5" y="452.5" width="13" height="13" fill="#000"/>
<polyline fill="none" stroke="#f00" stroke-width="4.5" stroke-linejoin="round" points="366,885.5 400,885.5 419,896 443,905.5 466,910 482,900 498,884 519,847 531,810 544,773 553,737 563,700 576,658 586,615 594,572 599,545 612,490 624,435 638,394 650,372 660,366 672,365 690,366 698,380 704,400 706,407 706,407 709,420 708,550 709,553 713,530 722,492 727,480 733,452 741,430 749,392 752,385 752,385 760,440 760,440 765,447 772,430 780,400 787,362 795,340 803,333 812,345 820,358 824,362 824,362 820,380 820,583 820,585 825,570 831,555 837,530 852,505 867,480 881,455 892,425 901,408 908,410 908,410 905,500 903,503 910,495 920,480 941,455 955,425 962,402 968,396 974,399 978,410 979,430 979,470 980,486 988,491 1005,493 1020,498 1042,505 1067,510 1085,516 1092,518 1100,500 1108,486 1115,490 1119,500 1119,500 1120,530 1122,533 1135,535 1146,537 1151,548 1154,562 1160,572 1167,572 1172,562 1178,545 1185,520 1192,500 1205,495 1215,494 1221,501 1212,504 1200,507 1212,505 1222,504 1229,516 1238,528 1247,536 1251,548 1256,570 1262,592 1263,612 1266,625 1272,620 1280,608 1296,588 1307,570 1320,555 1340,540 1355,533 1365,532 1372,550 1376,578 1390,586 1408,591 1420,580 1427,550 1446,525 1453,500 1460,475 1470,450 1477,441 1482,445 1482,445 1483,730 1484,735 1497,746 1510,741 1521,725 1531,700 1539,675 1545,635 1552,608 1557,598 1557,598 1560,647 1560,647 1565,634 1575,608 1583,592 1590,575 1597,556 1602,548 1608,552 1611,580 1611,580 1610,660 1611,666 1614,658 1620,642 1626,628 1635,605 1645,568 1652,552 1657,555 1659,575 1659,600 1660,640 1662,665 1661,665 1664,685 1671,695 1680,688 1691,677 1700,670 1708,664 1714,672 1718,680 1725,675 1736,665 1753,647 1771,615 1780,597 1785,593 1790,600 1798,640 1803,685 1810,700 1810,700 1815,715 1815,812 1813,815 1820,823 1827,825 1835,815 1843,802 1857,765 1870,715 1881,677 1890,640 1897,612 1902,606 1905,612 1905,612 1906,690 1906,690 1908,700 1912,690 1920,660 1928,647 1935,648 1945,670 1954,690 1965,695 1976,697 2136,697"/>
<polyline fill="none" stroke="#f00" stroke-width="4.5" marker-start="url(#r20)" marker-mid="url(#r20)" marker-end="url(#r20)" points="366,885.5 368.4,885.5 370.9,885.5 373.3,885.5 375.7,885.5 378.1,885.5 380.6,885.5 383,885.5 385.4,885.5 387.9,885.5 390.3,885.5 392.7,885.5 395.1,885.5 397.6,885.5 400,885.5 402.1,886.7 404.2,887.8 406.3,889 408.4,890.2 410.6,891.3 412.7,892.5 414.8,893.7 416.9,894.8 419,896 421.4,897 423.8,897.9 426.2,898.9 428.6,899.8 431,900.8 433.4,901.7 435.8,902.6 438.2,903.6 440.6,904.5 443,905.5 445.6,906 448.1,906.5 450.7,907 453.2,907.5 455.8,908 458.3,908.5 460.9,909 463.4,909.5 466,910 468,908.8 470,907.5 472,906.2 474,905 476,903.8 478,902.5 480,901.2 482,900 483.8,898.2 485.6,896.4 487.3,894.7 489.1,892.9 490.9,891.1 492.7,889.3 494.4,887.6 496.2,885.8 498,884 499.2,881.8 500.5,879.6 501.7,877.5 502.9,875.3 504.2,873.1 505.4,870.9 506.6,868.8 507.9,866.6 509.1,864.4 510.4,862.2 511.6,860.1 512.8,857.9 514.1,855.7 515.3,853.5 516.5,851.4 517.8,849.2 519,847 519.8,844.7 520.5,842.4 521.2,840.1 522,837.8 522.8,835.4 523.5,833.1 524.2,830.8 525,828.5 525.8,826.2 526.5,823.9 527.2,821.6 528,819.2 528.8,816.9 529.5,814.6 530.2,812.3 531,810 531.8,807.7 532.6,805.4 533.4,803.1 534.2,800.8 535.1,798.4 535.9,796.1 536.7,793.8 537.5,791.5 538.3,789.2 539.1,786.9 539.9,784.6 540.8,782.2 541.6,779.9 542.4,777.6 543.2,775.3 544,773 544.6,770.6 545.2,768.2 545.8,765.8 546.4,763.4 547,761 547.6,758.6 548.2,756.2 548.8,753.8 549.4,751.4 550,749 550.6,746.6 551.2,744.2 551.8,741.8 552.4,739.4 553,737 553.7,734.5 554.3,732.1 555,729.6 555.7,727.1 556.3,724.7 557,722.2 557.7,719.7 558.3,717.3 559,714.8 559.7,712.3 560.3,709.9 561,707.4 561.7,704.9 562.3,702.5 563,700 563.7,697.7 564.4,695.3 565.2,693 565.9,690.7 566.6,688.3 567.3,686 568.1,683.7 568.8,681.3 569.5,679 570.2,676.7 570.9,674.3 571.7,672 572.4,669.7 573.1,667.3 573.8,665 574.6,662.7 575.3,660.3 576,658 576.6,655.6 577.1,653.2 577.7,650.8 578.2,648.4 578.8,646.1 579.3,643.7 579.9,641.3 580.4,638.9 581,636.5 581.6,634.1 582.1,631.7 582.7,629.3 583.2,626.9 583.8,624.6 584.3,622.2 584.9,619.8 585.4,617.4 586,615 586.5,612.5 586.9,609.9 587.4,607.4 587.9,604.9 588.4,602.4 588.8,599.8 589.3,597.3 589.8,594.8 590.2,592.2 590.7,589.7 591.2,587.2 591.6,584.6 592.1,582.1 592.6,579.6 593.1,577.1 593.5,574.5 594,572 594.5,569.5 594.9,567.1 595.4,564.6 595.8,562.2 596.3,559.7 596.7,557.3 597.2,554.8 597.6,552.4 598.1,549.9 598.5,547.5 599,545 599.6,542.6 600.1,540.2 600.7,537.8 601.3,535.4 601.8,533 602.4,530.7 603,528.3 603.5,525.9 604.1,523.5 604.7,521.1 605.2,518.7 605.8,516.3 606.3,513.9 606.9,511.5 607.5,509.1 608,506.7 608.6,504.3 609.2,502 609.7,499.6 610.3,497.2 610.9,494.8 611.4,492.4 612,490 612.5,487.6 613,485.2 613.6,482.8 614.1,480.4 614.6,478 615.1,475.7 615.7,473.3 616.2,470.9 616.7,468.5 617.2,466.1 617.7,463.7 618.3,461.3 618.8,458.9 619.3,456.5 619.8,454.1 620.3,451.7 620.9,449.3 621.4,447 621.9,444.6 622.4,442.2 623,439.8 623.5,437.4 624,435 624.8,432.6 625.6,430.2 626.5,427.8 627.3,425.4 628.1,422.9 628.9,420.5 629.8,418.1 630.6,415.7 631.4,413.3 632.2,410.9 633.1,408.5 633.9,406.1 634.7,403.6 635.5,401.2 636.4,398.8 637.2,396.4 638,394 639.2,391.8 640.4,389.6 641.6,387.4 642.8,385.2 644,383 645.2,380.8 646.4,378.6 647.6,376.4 648.8,374.2 650,372 652,370.8 654,369.6 656,368.4 658,367.2 660,366 662.4,365.8 664.8,365.6 667.2,365.4 669.6,365.2 672,365 674.6,365.1 677.1,365.3 679.7,365.4 682.3,365.6 684.9,365.7 687.4,365.9 690,366 691.3,368.3 692.7,370.7 694,373 695.3,375.3 696.7,377.7 698,380 698.8,382.5 699.5,385 700.2,387.5 701,390 701.8,392.5 702.5,395 703.2,397.5 704,400 704.7,402.3 705.3,404.7 706,407"/>
<polyline fill="none" stroke="#f00" stroke-width="4.5" marker-start="url(#r20)" marker-mid="url(#r20)" marker-end="url(#r20)" points="709,553 709.4,550.4 709.9,547.9 710.3,545.3 710.8,542.8 711.2,540.2 711.7,537.7 712.1,535.1 712.6,532.6 713,530 713.6,527.6 714.1,525.2 714.7,522.9 715.2,520.5 715.8,518.1 716.4,515.8 716.9,513.4 717.5,511 718.1,508.6 718.6,506.2 719.2,503.9 719.8,501.5 720.3,499.1 720.9,496.8 721.4,494.4 722,492 723,489.6 724,487.2 725,484.8 726,482.4 727,480 727.5,477.5 728.1,474.9 728.6,472.4 729.2,469.8 729.7,467.3 730.3,464.7 730.8,462.2 731.4,459.6 731.9,457.1 732.5,454.5 733,452 733.9,449.6 734.8,447.1 735.7,444.7 736.6,442.2 737.4,439.8 738.3,437.3 739.2,434.9 740.1,432.4 741,430 741.5,427.6 742,425.2 742.5,422.9 743,420.5 743.5,418.1 744,415.8 744.5,413.4 745,411 745.5,408.6 746,406.2 746.5,403.9 747,401.5 747.5,399.1 748,396.8 748.5,394.4 749,392 750,389.7 751,387.3 752,385"/>
<polyline fill="none" stroke="#f00" stroke-width="4.5" marker-start="url(#r20)" marker-mid="url(#r20)" marker-end="url(#r20)" points="760,440 761.7,442.3 763.3,444.7 765,447 766,444.6 767,442.1 768,439.7 769,437.3 770,434.9 771,432.4 772,430 772.7,427.5 773.3,425 774,422.5 774.7,420 775.3,417.5 776,415 776.7,412.5 777.3,410 778,407.5 778.7,405 779.3,402.5 780,400 780.5,397.5 780.9,394.9 781.4,392.4 781.9,389.9 782.3,387.3 782.8,384.8 783.3,382.3 783.7,379.7 784.2,377.2 784.7,374.7 785.1,372.1 785.6,369.6 786.1,367.1 786.5,364.5 787,362 787.9,359.6 788.8,357.1 789.7,354.7 790.6,352.2 791.4,349.8 792.3,347.3 793.2,344.9 794.1,342.4 795,340 797,338.2 799,336.5 801,334.8 803,333 804.5,335 806,337 807.5,339 809,341 810.5,343 812,345 813.3,347.2 814.7,349.3 816,351.5 817.3,353.7 818.7,355.8 820,358 822,360 824,362"/>
<polyline fill="none" stroke="#f00" stroke-width="4.5" marker-start="url(#r20)" marker-mid="url(#r20)" marker-end="url(#r20)" points="820,585 820.8,582.5 821.7,580 822.5,577.5 823.3,575 824.2,572.5 825,570 826,567.5 827,565 828,562.5 829,560 830,557.5 831,555 831.6,552.5 832.2,550 832.8,547.5 833.4,545 834,542.5 834.6,540 835.2,537.5 835.8,535 836.4,532.5 837,530 838.2,527.9 839.5,525.8 840.8,523.8 842,521.7 843.2,519.6 844.5,517.5 845.8,515.4 847,513.3 848.2,511.2 849.5,509.2 850.8,507.1 852,505 853.2,502.9 854.5,500.8 855.8,498.8 857,496.7 858.2,494.6 859.5,492.5 860.8,490.4 862,488.3 863.2,486.2 864.5,484.2 865.8,482.1 867,480 868.3,477.7 869.5,475.5 870.8,473.2 872.1,470.9 873.4,468.6 874.6,466.4 875.9,464.1 877.2,461.8 878.5,459.5 879.7,457.3 881,455 881.8,452.7 882.7,450.4 883.5,448.1 884.4,445.8 885.2,443.5 886.1,441.2 886.9,438.8 887.8,436.5 888.6,434.2 889.5,431.9 890.3,429.6 891.2,427.3 892,425 893.1,422.9 894.2,420.8 895.4,418.6 896.5,416.5 897.6,414.4 898.8,412.2 899.9,410.1 901,408 903.3,408.7 905.7,409.3 908,410"/>
<polyline fill="none" stroke="#f00" stroke-width="4.5" marker-start="url(#r20)" marker-mid="url(#r20)" marker-end="url(#r20)" points="903,503 904.8,501 906.5,499 908.2,497 910,495 911.4,492.9 912.9,490.7 914.3,488.6 915.7,486.4 917.1,484.3 918.6,482.1 920,480 921.6,478.1 923.2,476.2 924.8,474.2 926.5,472.3 928.1,470.4 929.7,468.5 931.3,466.5 932.9,464.6 934.5,462.7 936.2,460.8 937.8,458.8 939.4,456.9 941,455 942.1,452.7 943.2,450.4 944.2,448.1 945.3,445.8 946.4,443.5 947.5,441.2 948.5,438.8 949.6,436.5 950.7,434.2 951.8,431.9 952.8,429.6 953.9,427.3 955,425 955.7,422.7 956.4,420.4 957.1,418.1 957.8,415.8 958.5,413.5 959.2,411.2 959.9,408.9 960.6,406.6 961.3,404.3 962,402 964,400 966,398 968,396 970,397 972,398 974,399 974.8,401.2 975.6,403.4 976.4,405.6 977.2,407.8 978,410 978.1,412.5 978.2,415 978.4,417.5 978.5,420 978.6,422.5 978.8,425 978.9,427.5 979,430 979,432.5 979,435 979,437.5 979,440 979,442.5 979,445 979,447.5 979,450 979,452.5 979,455 979,457.5 979,460 979,462.5 979,465 979,467.5 979,470 979.2,472.7 979.3,475.3 979.5,478 979.7,480.7 979.8,483.3 980,486 982,487.2 984,488.5 986,489.8 988,491 990.4,491.3 992.9,491.6 995.3,491.9 997.7,492.1 1000.1,492.4 1002.6,492.7 1005,493 1007.5,493.8 1010,494.7 1012.5,495.5 1015,496.3 1017.5,497.2 1020,498 1022.4,498.8 1024.9,499.6 1027.3,500.3 1029.8,501.1 1032.2,501.9 1034.7,502.7 1037.1,503.4 1039.6,504.2 1042,505 1044.5,505.5 1047,506 1049.5,506.5 1052,507 1054.5,507.5 1057,508 1059.5,508.5 1062,509 1064.5,509.5 1067,510 1069.2,510.8 1071.5,511.5 1073.8,512.2 1076,513 1078.2,513.8 1080.5,514.5 1082.8,515.2 1085,516 1087.3,516.7 1089.7,517.3 1092,518 1093,515.8 1094,513.5 1095,511.2 1096,509 1097,506.8 1098,504.5 1099,502.2 1100,500 1101.3,497.7 1102.7,495.3 1104,493 1105.3,490.7 1106.7,488.3 1108,486 1110.3,487.3 1112.7,488.7 1115,490 1116,492.5 1117,495 1118,497.5 1119,500"/>
<polyline fill="none" stroke="#f00" stroke-width="4.5" marker-start="url(#r20)" marker-mid="url(#r20)" marker-end="url(#r20)" points="1122,533 1124.6,533.4 1127.2,533.8 1129.8,534.2 1132.4,534.6 1135,535 1137.8,535.5 1140.5,536 1143.2,536.5 1146,537 1147,539.2 1148,541.4 1149,543.6 1150,545.8 1151,548 1151.5,550.3 1152,552.7 1152.5,555 1153,557.3 1153.5,559.7 1154,562 1155.2,564 1156.4,566 1157.6,568 1158.8,570 1160,572 1162.3,572 1164.7,572 1167,572 1168.2,569.5 1169.5,567 1170.8,564.5 1172,562 1172.9,559.6 1173.7,557.1 1174.6,554.7 1175.4,552.3 1176.3,549.9 1177.1,547.4 1178,545 1178.7,542.5 1179.4,540 1180.1,537.5 1180.8,535 1181.5,532.5 1182.2,530 1182.9,527.5 1183.6,525 1184.3,522.5 1185,520 1185.9,517.5 1186.8,515 1187.6,512.5 1188.5,510 1189.4,507.5 1190.2,505 1191.1,502.5 1192,500 1194.2,499.2 1196.3,498.3 1198.5,497.5 1200.7,496.7 1202.8,495.8 1205,495 1207.5,494.8 1210,494.5 1212.5,494.2 1215,494 1216.5,495.8 1218,497.5 1219.5,499.2 1221,501 1218.8,501.8 1216.5,502.5 1214.2,503.2 1212,504 1209.6,504.6 1207.2,505.2 1204.8,505.8 1202.4,506.4 1200,507 1202.4,506.6 1204.8,506.2 1207.2,505.8 1209.6,505.4 1212,505 1214.5,504.8 1217,504.5 1219.5,504.2 1222,504 1223.2,506 1224.3,508 1225.5,510 1226.7,512 1227.8,514 1229,516 1230.5,518 1232,520 1233.5,522 1235,524 1236.5,526 1238,528 1239.8,529.6 1241.6,531.2 1243.4,532.8 1245.2,534.4 1247,536 1247.8,538.4 1248.6,540.8 1249.4,543.2 1250.2,545.6 1251,548 1251.6,550.4 1252.1,552.9 1252.7,555.3 1253.2,557.8 1253.8,560.2 1254.3,562.7 1254.9,565.1 1255.4,567.6 1256,570 1256.7,572.4 1257.3,574.9 1258,577.3 1258.7,579.8 1259.3,582.2 1260,584.7 1260.7,587.1 1261.3,589.6 1262,592 1262.1,594.5 1262.2,597 1262.4,599.5 1262.5,602 1262.6,604.5 1262.8,607 1262.9,609.5 1263,612 1263.6,614.6 1264.2,617.2 1264.8,619.8 1265.4,622.4 1266,625 1268,623.3 1270,621.7 1272,620 1273.3,618 1274.7,616 1276,614 1277.3,612 1278.7,610 1280,608 1281.6,606 1283.2,604 1284.8,602 1286.4,600 1288,598 1289.6,596 1291.2,594 1292.8,592 1294.4,590 1296,588 1297.4,585.8 1298.8,583.5 1300.1,581.2 1301.5,579 1302.9,576.8 1304.2,574.5 1305.6,572.2 1307,570 1308.6,568.1 1310.2,566.2 1311.9,564.4 1313.5,562.5 1315.1,560.6 1316.8,558.8 1318.4,556.9 1320,555 1322,553.5 1324,552 1326,550.5 1328,549 1330,547.5 1332,546 1334,544.5 1336,543 1338,541.5 1340,540 1342.1,539 1344.3,538 1346.4,537 1348.6,536 1350.7,535 1352.9,534 1355,533 1357.5,532.8 1360,532.5 1362.5,532.2 1365,532 1365.9,534.2 1366.8,536.5 1367.6,538.8 1368.5,541 1369.4,543.2 1370.2,545.5 1371.1,547.8 1372,550 1372.4,552.5 1372.7,555.1 1373.1,557.6 1373.5,560.2 1373.8,562.7 1374.2,565.3 1374.5,567.8 1374.9,570.4 1375.3,572.9 1375.6,575.5 1376,578 1378.3,579.3 1380.7,580.7 1383,582 1385.3,583.3 1387.7,584.7 1390,586 1392.6,586.7 1395.1,587.4 1397.7,588.1 1400.3,588.9 1402.9,589.6 1405.4,590.3 1408,591 1409.7,589.4 1411.4,587.9 1413.1,586.3 1414.9,584.7 1416.6,583.1 1418.3,581.6 1420,580 1420.6,577.5 1421.2,575 1421.8,572.5 1422.3,570 1422.9,567.5 1423.5,565 1424.1,562.5 1424.7,560 1425.2,557.5 1425.8,555 1426.4,552.5 1427,550 1428.5,548.1 1429.9,546.2 1431.4,544.2 1432.8,542.3 1434.3,540.4 1435.8,538.5 1437.2,536.5 1438.7,534.6 1440.2,532.7 1441.6,530.8 1443.1,528.8 1444.5,526.9 1446,525 1446.7,522.5 1447.4,520 1448.1,517.5 1448.8,515 1449.5,512.5 1450.2,510 1450.9,507.5 1451.6,505 1452.3,502.5 1453,500 1453.7,497.5 1454.4,495 1455.1,492.5 1455.8,490 1456.5,487.5 1457.2,485 1457.9,482.5 1458.6,480 1459.3,477.5 1460,475 1460.9,472.7 1461.8,470.5 1462.7,468.2 1463.6,465.9 1464.5,463.6 1465.5,461.4 1466.4,459.1 1467.3,456.8 1468.2,454.5 1469.1,452.3 1470,450 1471.4,448.2 1472.8,446.4 1474.2,444.6 1475.6,442.8 1477,441 1478.7,442.3 1480.3,443.7 1482,445"/>
<polyline fill="none" stroke="#f00" stroke-width="4.5" marker-start="url(#r20)" marker-mid="url(#r20)" marker-end="url(#r20)" points="1484,735 1485.9,736.6 1487.7,738.1 1489.6,739.7 1491.4,741.3 1493.3,742.9 1495.1,744.4 1497,746 1499.2,745.2 1501.3,744.3 1503.5,743.5 1505.7,742.7 1507.8,741.8 1510,741 1511.4,739 1512.8,737 1514.1,735 1515.5,733 1516.9,731 1518.2,729 1519.6,727 1521,725 1521.9,722.7 1522.8,720.5 1523.7,718.2 1524.6,715.9 1525.5,713.6 1526.5,711.4 1527.4,709.1 1528.3,706.8 1529.2,704.5 1530.1,702.3 1531,700 1531.8,697.5 1532.6,695 1533.4,692.5 1534.2,690 1535,687.5 1535.8,685 1536.6,682.5 1537.4,680 1538.2,677.5 1539,675 1539.4,672.5 1539.8,670 1540.1,667.5 1540.5,665 1540.9,662.5 1541.2,660 1541.6,657.5 1542,655 1542.4,652.5 1542.8,650 1543.1,647.5 1543.5,645 1543.9,642.5 1544.2,640 1544.6,637.5 1545,635 1545.6,632.5 1546.3,630.1 1546.9,627.6 1547.5,625.2 1548.2,622.7 1548.8,620.3 1549.5,617.8 1550.1,615.4 1550.7,612.9 1551.4,610.5 1552,608 1553.2,605.5 1554.5,603 1555.8,600.5 1557,598"/>
<polyline fill="none" stroke="#f00" stroke-width="4.5" marker-start="url(#r20)" marker-mid="url(#r20)" marker-end="url(#r20)" points="1560,647 1560.8,644.8 1561.7,642.7 1562.5,640.5 1563.3,638.3 1564.2,636.2 1565,634 1565.9,631.6 1566.8,629.3 1567.7,626.9 1568.6,624.5 1569.5,622.2 1570.5,619.8 1571.4,617.5 1572.3,615.1 1573.2,612.7 1574.1,610.4 1575,608 1576.1,605.7 1577.3,603.4 1578.4,601.1 1579.6,598.9 1580.7,596.6 1581.9,594.3 1583,592 1584,589.6 1585,587.1 1586,584.7 1587,582.3 1588,579.9 1589,577.4 1590,575 1590.9,572.6 1591.8,570.2 1592.6,567.9 1593.5,565.5 1594.4,563.1 1595.2,560.8 1596.1,558.4 1597,556 1598.2,554 1599.5,552 1600.8,550 1602,548 1604,549.3 1606,550.7 1608,552 1608.3,554.5 1608.5,557.1 1608.8,559.6 1609.1,562.2 1609.4,564.7 1609.6,567.3 1609.9,569.8 1610.2,572.4 1610.5,574.9 1610.7,577.5 1611,580"/>
<polyline fill="none" stroke="#f00" stroke-width="4.5" marker-start="url(#r20)" marker-mid="url(#r20)" marker-end="url(#r20)" points="1611,666 1612,663.3 1613,660.7 1614,658 1614.9,655.7 1615.7,653.4 1616.6,651.1 1617.4,648.9 1618.3,646.6 1619.1,644.3 1620,642 1621,639.7 1622,637.3 1623,635 1624,632.7 1625,630.3 1626,628 1626.9,625.7 1627.8,623.4 1628.7,621.1 1629.6,618.8 1630.5,616.5 1631.4,614.2 1632.3,611.9 1633.2,609.6 1634.1,607.3 1635,605 1635.7,602.5 1636.3,600.1 1637,597.6 1637.7,595.1 1638.3,592.7 1639,590.2 1639.7,587.7 1640.3,585.3 1641,582.8 1641.7,580.3 1642.3,577.9 1643,575.4 1643.7,572.9 1644.3,570.5 1645,568 1646,565.7 1647,563.4 1648,561.1 1649,558.9 1650,556.6 1651,554.3 1652,552 1654.5,553.5 1657,555 1657.2,557.5 1657.5,560 1657.8,562.5 1658,565 1658.2,567.5 1658.5,570 1658.8,572.5 1659,575 1659,577.5 1659,580 1659,582.5 1659,585 1659,587.5 1659,590 1659,592.5 1659,595 1659,597.5 1659,600 1659.1,602.5 1659.1,605 1659.2,607.5 1659.2,610 1659.3,612.5 1659.4,615 1659.4,617.5 1659.5,620 1659.6,622.5 1659.6,625 1659.7,627.5 1659.8,630 1659.8,632.5 1659.9,635 1659.9,637.5 1660,640 1660.2,642.5 1660.4,645 1660.6,647.5 1660.8,650 1661,652.5 1661.2,655 1661.4,657.5 1661.6,660 1661.8,662.5 1662,665"/>
<polyline fill="none" stroke="#f00" stroke-width="4.5" marker-start="url(#r20)" marker-mid="url(#r20)" marker-end="url(#r20)" points="1661,665 1661.4,667.5 1661.8,670 1662.1,672.5 1662.5,675 1662.9,677.5 1663.2,680 1663.6,682.5 1664,685 1665.4,687 1666.8,689 1668.2,691 1669.6,693 1671,695 1672.8,693.6 1674.6,692.2 1676.4,690.8 1678.2,689.4 1680,688 1681.8,686.2 1683.7,684.3 1685.5,682.5 1687.3,680.7 1689.2,678.8 1691,677 1692.8,675.6 1694.6,674.2 1696.4,672.8 1698.2,671.4 1700,670 1702,668.5 1704,667 1706,665.5 1708,664 1709.5,666 1711,668 1712.5,670 1714,672 1715,674 1716,676 1717,678 1718,680 1720.3,678.3 1722.7,676.7 1725,675 1726.8,673.3 1728.7,671.7 1730.5,670 1732.3,668.3 1734.2,666.7 1736,665 1737.7,663.2 1739.4,661.4 1741.1,659.6 1742.8,657.8 1744.5,656 1746.2,654.2 1747.9,652.4 1749.6,650.6 1751.3,648.8 1753,647 1754.2,644.9 1755.4,642.7 1756.6,640.6 1757.8,638.5 1759,636.3 1760.2,634.2 1761.4,632.1 1762.6,629.9 1763.8,627.8 1765,625.7 1766.2,623.5 1767.4,621.4 1768.6,619.3 1769.8,617.1 1771,615 1772.1,612.8 1773.2,610.5 1774.4,608.2 1775.5,606 1776.6,603.8 1777.8,601.5 1778.9,599.2 1780,597 1781.7,595.7 1783.3,594.3 1785,593 1786.7,595.3 1788.3,597.7 1790,600 1790.5,602.5 1791,605 1791.5,607.5 1792,610 1792.5,612.5 1793,615 1793.5,617.5 1794,620 1794.5,622.5 1795,625 1795.5,627.5 1796,630 1796.5,632.5 1797,635 1797.5,637.5 1798,640 1798.3,642.5 1798.6,645 1798.8,647.5 1799.1,650 1799.4,652.5 1799.7,655 1799.9,657.5 1800.2,660 1800.5,662.5 1800.8,665 1801.1,667.5 1801.3,670 1801.6,672.5 1801.9,675 1802.2,677.5 1802.4,680 1802.7,682.5 1803,685 1804,687.1 1805,689.3 1806,691.4 1807,693.6 1808,695.7 1809,697.9 1810,700"/>
<polyline fill="none" stroke="#f00" stroke-width="4.5" marker-start="url(#r20)" marker-mid="url(#r20)" marker-end="url(#r20)" points="1813,815 1814.8,817 1816.5,819 1818.2,821 1820,823 1822.3,823.7 1824.7,824.3 1827,825 1828.6,823 1830.2,821 1831.8,819 1833.4,817 1835,815 1836.3,812.8 1837.7,810.7 1839,808.5 1840.3,806.3 1841.7,804.2 1843,802 1843.9,799.7 1844.8,797.4 1845.6,795.1 1846.5,792.8 1847.4,790.4 1848.2,788.1 1849.1,785.8 1850,783.5 1850.9,781.2 1851.8,778.9 1852.6,776.6 1853.5,774.2 1854.4,771.9 1855.2,769.6 1856.1,767.3 1857,765 1857.6,762.6 1858.2,760.2 1858.9,757.9 1859.5,755.5 1860.1,753.1 1860.7,750.7 1861.3,748.3 1862,746 1862.6,743.6 1863.2,741.2 1863.8,738.8 1864.4,736.4 1865,734 1865.7,731.7 1866.3,729.3 1866.9,726.9 1867.5,724.5 1868.1,722.1 1868.8,719.8 1869.4,717.4 1870,715 1870.7,712.6 1871.4,710.2 1872.1,707.9 1872.8,705.5 1873.4,703.1 1874.1,700.8 1874.8,698.4 1875.5,696 1876.2,693.6 1876.9,691.2 1877.6,688.9 1878.2,686.5 1878.9,684.1 1879.6,681.8 1880.3,679.4 1881,677 1881.6,674.5 1882.2,672.1 1882.8,669.6 1883.4,667.1 1884,664.7 1884.6,662.2 1885.2,659.7 1885.8,657.3 1886.4,654.8 1887,652.3 1887.6,649.9 1888.2,647.4 1888.8,644.9 1889.4,642.5 1890,640 1890.6,637.7 1891.2,635.3 1891.8,633 1892.3,630.7 1892.9,628.3 1893.5,626 1894.1,623.7 1894.7,621.3 1895.2,619 1895.8,616.7 1896.4,614.3 1897,612 1898.7,610 1900.3,608 1902,606 1903,608 1904,610 1905,612"/>
<polyline fill="none" stroke="#f00" stroke-width="4.5" marker-start="url(#r20)" marker-mid="url(#r20)" marker-end="url(#r20)" points="1906,690 1906.5,692.5 1907,695 1907.5,697.5 1908,700 1909,697.5 1910,695 1911,692.5 1912,690 1912.7,687.5 1913.3,685 1914,682.5 1914.7,680 1915.3,677.5 1916,675 1916.7,672.5 1917.3,670 1918,667.5 1918.7,665 1919.3,662.5 1920,660 1921.3,657.8 1922.7,655.7 1924,653.5 1925.3,651.3 1926.7,649.2 1928,647 1930.3,647.3 1932.7,647.7 1935,648 1936,650.2 1937,652.4 1938,654.6 1939,656.8 1940,659 1941,661.2 1942,663.4 1943,665.6 1944,667.8 1945,670 1946,672.2 1947,674.4 1948,676.7 1949,678.9 1950,681.1 1951,683.3 1952,685.6 1953,687.8 1954,690 1956.2,691 1958.4,692 1960.6,693 1962.8,694 1965,695 1967.8,695.5 1970.5,696 1973.2,696.5 1976,697 1978.5,697 1981,697 1983.5,697 1986,697 1988.5,697 1991,697 1993.5,697 1996,697 1998.5,697 2001,697 2003.5,697 2006,697 2008.5,697 2011,697 2013.5,697 2016,697 2018.5,697 2021,697 2023.5,697 2026,697 2028.5,697 2031,697 2033.5,697 2036,697 2038.5,697 2041,697 2043.5,697 2046,697 2048.5,697 2051,697 2053.5,697 2056,697 2058.5,697 2061,697 2063.5,697 2066,697 2068.5,697 2071,697 2073.5,697 2076,697 2078.5,697 2081,697 2083.5,697 2086,697 2088.5,697 2091,697 2093.5,697 2096,697 2098.5,697 2101,697 2103.5,697 2106,697 2108.5,697 2111,697 2113.5,697 2116,697 2118.5,697 2121,697 2123.5,697 2126,697 2128.5,697 2131,697 2133.5,697 2136,697"/>
<circle cx="709" cy="420" r="6.75" fill="#fff" stroke="#f00" stroke-width="4.5"/>
<circle cx="709" cy="430" r="6.75" fill="#fff" stroke="#f00" stroke-width="4.5"/>
<circle cx="709" cy="445" r="6.75" fill="#fff" stroke="#f00" stroke-width="4.5"/>
<circle cx="707.5" cy="473" r="6.75" fill="#fff" stroke="#f00" stroke-width="4.5"/>
<circle cx="760" cy="446" r="4.25" fill="#fff" stroke="#f00" stroke-width="3.5"/>
<circle cx="820" cy="375" r="6.75" fill="#fff" stroke="#f00" stroke-width="4.5"/>
<circle cx="820" cy="392" r="6.75" fill="#fff" stroke="#f00" stroke-width="4.5"/>
<circle cx="820" cy="471" r="6.75" fill="#fff" stroke="#f00" stroke-width="4.5"/>
<circle cx="818" cy="565" r="4.75" fill="#fff" stroke="#f00" stroke-width="4.5"/>
<circle cx="818" cy="578" r="4.75" fill="#fff" stroke="#f00" stroke-width="4.5"/>
<circle cx="905" cy="441" r="5.75" fill="#fff" stroke="#f00" stroke-width="4.5"/>
<circle cx="905" cy="455" r="5.75" fill="#fff" stroke="#f00" stroke-width="4.5"/>
<circle cx="905" cy="466" r="5.75" fill="#fff" stroke="#f00" stroke-width="4.5"/>
<circle cx="901" cy="480" r="4.75" fill="#fff" stroke="#f00" stroke-width="4.5"/>
<circle cx="1119" cy="505" r="4.75" fill="#fff" stroke="#f00" stroke-width="4.5"/>
<circle cx="1119" cy="516" r="4.75" fill="#fff" stroke="#f00" stroke-width="4.5"/>
<circle cx="1119" cy="527" r="4.75" fill="#fff" stroke="#f00" stroke-width="4.5"/>
<circle cx="1483" cy="458" r="3.25" fill="#fff" stroke="#f00" stroke-width="3.5"/>
<circle cx="1483" cy="470" r="4.25" fill="#fff" stroke="#f00" stroke-width="3.5"/>
<circle cx="1483" cy="488" r="4.75" fill="#fff" stroke="#f00" stroke-width="4.5"/>
<circle cx="1483" cy="598" r="6.75" fill="#fff" stroke="#f00" stroke-width="4.5"/>
<circle cx="1609.5" cy="595.5" r="6.75" fill="#fff" stroke="#f00" stroke-width="4.5"/>
<circle cx="1609.5" cy="617.5" r="6.75" fill="#fff" stroke="#f00" stroke-width="4.5"/>
<circle cx="1658.6" cy="574.7" r="3.75" fill="#fff" stroke="#f00" stroke-width="3.5"/>
<circle cx="1658.6" cy="584" r="3.75" fill="#fff" stroke="#f00" stroke-width="3.5"/>
<circle cx="1658.6" cy="593" r="3.75" fill="#fff" stroke="#f00" stroke-width="3.5"/>
<circle cx="1660.6" cy="602" r="3.75" fill="#fff" stroke="#f00" stroke-width="3.5"/>
<circle cx="1660" cy="647" r="3.75" fill="#fff" stroke="#f00" stroke-width="3.5"/>
<circle cx="1663" cy="656" r="3.75" fill="#fff" stroke="#f00" stroke-width="3.5"/>
<circle cx="1660.6" cy="687" r="3.75" fill="#fff" stroke="#f00" stroke-width="3.5"/>
<circle cx="1815" cy="711" r="6.75" fill="#fff" stroke="#f00" stroke-width="4.5"/>
<circle cx="1815" cy="730" r="6.75" fill="#fff" stroke="#f00" stroke-width="4.5"/>
<circle cx="1815" cy="774" r="6.75" fill="#fff" stroke="#f00" stroke-width="4.5"/>
<circle cx="1903" cy="618" r="4.25" fill="#fff" stroke="#f00" stroke-width="3.5"/>
<circle cx="1903" cy="630" r="4.25" fill="#fff" stroke="#f00" stroke-width="3.5"/>
<circle cx="1903" cy="642" r="4.25" fill="#fff" stroke="#f00" stroke-width="3.5"/>
<polyline fill="none" stroke="#00f" stroke-width="4.5" stroke-linejoin="round" points="366,914 402,929.5 433,942.5 464,948 488,940 507,920 524,884 538.5,847 550.5,810 561.5,773 570.5,737 579.5,700 590.5,656 601.5,600 612.5,545 622.5,490 631.5,435 637.5,408 644.5,380 651,353 657,330 663,312 666,304 671,316 678,328 690,333 705,331 716,323 727,313 738,325 747,327 754,345 760,367 768,392 775,412 790,425 800,418 809,412 818,425 830,434 845,425 860,408 870,425 880,433 895,428 912,417 925,432 935,438 950,432 971,422 979,435 985,450 992,462 1005,469 1025,478 1042,485 1055,477 1067,469 1080,466 1092,464 1105,458 1117,453 1129,460 1141,480 1150,505 1158,522 1180,527 1195,524 1217,526 1227,532 1235,550 1243,565 1252,572 1262,562 1272,551 1290,534 1310,530 1335,537 1360,542 1372,545 1385,560 1397,577 1410,584 1420,580 1430,572 1440,557 1447,547 1458,560 1472,561 1490,560 1500,554 1507,549 1514,555 1521,564 1528,574 1535,590 1560,591 1585,580 1610,571 1620,568 1630,576 1642,595 1655,615 1670,630 1691,639 1715,634 1741,633 1766,626 1780,617 1791,610 1798,640 1806,655 1816,662 1841,669 1855,664 1861,659 1867,650 1872,641 1878,643 1885,645 1892,651 1900,662 1911,677 1920,678 1930,673 1940,665 1946,658 1949,652 1952,658 1958,664 1965,671 1980,679 1990,683.5"/>
<polyline fill="none" stroke="#00f" stroke-width="4.5" marker-start="url(#b27)" marker-mid="url(#b27)" marker-end="url(#b27)" points="366,914 368.2,915 370.5,915.9 372.8,916.9 375,917.9 377.2,918.8 379.5,919.8 381.8,920.8 384,921.8 386.2,922.7 388.5,923.7 390.8,924.7 393,925.6 395.2,926.6 397.5,927.6 399.8,928.5 402,929.5 404.4,930.5 406.8,931.5 409.2,932.5 411.5,933.5 413.9,934.5 416.3,935.5 418.7,936.5 421.1,937.5 423.5,938.5 425.8,939.5 428.2,940.5 430.6,941.5 433,942.5 435.4,942.9 437.8,943.3 440.2,943.8 442.5,944.2 444.9,944.6 447.3,945 449.7,945.5 452.1,945.9 454.5,946.3 456.8,946.7 459.2,947.2 461.6,947.6 464,948 466.4,947.2 468.8,946.4 471.2,945.6 473.6,944.8 476,944 478.4,943.2 480.8,942.4 483.2,941.6 485.6,940.8 488,940 489.7,938.2 491.5,936.4 493.2,934.5 494.9,932.7 496.6,930.9 498.4,929.1 500.1,927.3 501.8,925.5 503.5,923.6 505.3,921.8 507,920 508.1,917.8 509.1,915.5 510.2,913.2 511.2,911 512.3,908.8 513.4,906.5 514.4,904.2 515.5,902 516.6,899.8 517.6,897.5 518.7,895.2 519.8,893 520.8,890.8 521.9,888.5 522.9,886.2 524,884 524.9,881.7 525.8,879.4 526.7,877.1 527.6,874.8 528.5,872.4 529.4,870.1 530.3,867.8 531.2,865.5 532.2,863.2 533.1,860.9 534,858.6 534.9,856.2 535.8,853.9 536.7,851.6 537.6,849.3 538.5,847 539.2,844.7 540,842.4 540.8,840.1 541.5,837.8 542.2,835.4 543,833.1 543.8,830.8 544.5,828.5 545.2,826.2 546,823.9 546.8,821.6 547.5,819.2 548.2,816.9 549,814.6 549.8,812.3 550.5,810 551.2,807.5 552,805.1 552.7,802.6 553.4,800.1 554.2,797.7 554.9,795.2 555.6,792.7 556.4,790.3 557.1,787.8 557.8,785.3 558.6,782.9 559.3,780.4 560,777.9 560.8,775.5 561.5,773 562.1,770.6 562.7,768.2 563.3,765.8 563.9,763.4 564.5,761 565.1,758.6 565.7,756.2 566.3,753.8 566.9,751.4 567.5,749 568.1,746.6 568.7,744.2 569.3,741.8 569.9,739.4 570.5,737 571.1,734.5 571.7,732.1 572.3,729.6 572.9,727.1 573.5,724.7 574.1,722.2 574.7,719.7 575.3,717.3 575.9,714.8 576.5,712.3 577.1,709.9 577.7,707.4 578.3,704.9 578.9,702.5 579.5,700 580.1,697.6 580.7,695.1 581.3,692.7 581.9,690.2 582.6,687.8 583.2,685.3 583.8,682.9 584.4,680.4 585,678 585.6,675.6 586.2,673.1 586.8,670.7 587.4,668.2 588.1,665.8 588.7,663.3 589.3,660.9 589.9,658.4 590.5,656 591,653.6 591.5,651.1 591.9,648.7 592.4,646.3 592.9,643.8 593.4,641.4 593.8,639 594.3,636.5 594.8,634.1 595.3,631.7 595.8,629.2 596.2,626.8 596.7,624.3 597.2,621.9 597.7,619.5 598.2,617 598.6,614.6 599.1,612.2 599.6,609.7 600.1,607.3 600.5,604.9 601,602.4 601.5,600 602,597.5 602.5,595 603,592.5 603.5,590 604,587.5 604.5,585 605,582.5 605.5,580 606,577.5 606.5,575 607,572.5 607.5,570 608,567.5 608.5,565 609,562.5 609.5,560 610,557.5 610.5,555 611,552.5 611.5,550 612,547.5 612.5,545 613,542.5 613.4,540 613.9,537.5 614.3,535 614.8,532.5 615.2,530 615.7,527.5 616.1,525 616.6,522.5 617,520 617.5,517.5 618,515 618.4,512.5 618.9,510 619.3,507.5 619.8,505 620.2,502.5 620.7,500 621.1,497.5 621.6,495 622,492.5 622.5,490 622.9,487.5 623.3,485 623.7,482.5 624.1,480 624.5,477.5 625,475 625.4,472.5 625.8,470 626.2,467.5 626.6,465 627,462.5 627.4,460 627.8,457.5 628.2,455 628.6,452.5 629,450 629.5,447.5 629.9,445 630.3,442.5 630.7,440 631.1,437.5 631.5,435 632,432.5 632.6,430.1 633.1,427.6 633.7,425.2 634.2,422.7 634.8,420.3 635.3,417.8 635.9,415.4 636.4,412.9 637,410.5 637.5,408 638.1,405.7 638.7,403.3 639.2,401 639.8,398.7 640.4,396.3 641,394 641.6,391.7 642.2,389.3 642.8,387 643.3,384.7 643.9,382.3 644.5,380 645.1,377.5 645.7,375.1 646.3,372.6 646.9,370.2 647.5,367.7 648,365.3 648.6,362.8 649.2,360.4 649.8,357.9 650.4,355.5 651,353 651.6,350.7 652.2,348.4 652.8,346.1 653.4,343.8 654,341.5 654.6,339.2 655.2,336.9 655.8,334.6 656.4,332.3 657,330 657.8,327.8 658.5,325.5 659.2,323.2 660,321 660.8,318.8 661.5,316.5 662.2,314.2 663,312 664,309.3 665,306.7 666,304 667,306.4 668,308.8 669,311.2 670,313.6 671,316 672.2,318 673.3,320 674.5,322 675.7,324 676.8,326 678,328 680.4,329 682.8,330 685.2,331 687.6,332 690,333 692.5,332.7 695,332.3 697.5,332 700,331.7 702.5,331.3 705,331 707.2,329.4 709.4,327.8 711.6,326.2 713.8,324.6 716,323 717.8,321.3 719.7,319.7 721.5,318 723.3,316.3 725.2,314.7 727,313 728.6,314.7 730.1,316.4 731.7,318.1 733.3,319.9 734.9,321.6 736.4,323.3 738,325 740.2,325.5 742.5,326 744.8,326.5 747,327 747.9,329.2 748.8,331.5 749.6,333.8 750.5,336 751.4,338.2 752.2,340.5 753.1,342.8 754,345 754.7,347.4 755.3,349.9 756,352.3 756.7,354.8 757.3,357.2 758,359.7 758.7,362.1 759.3,364.6 760,367 760.8,369.5 761.6,372 762.4,374.5 763.2,377 764,379.5 764.8,382 765.6,384.5 766.4,387 767.2,389.5 768,392 768.9,394.5 769.8,397 770.6,399.5 771.5,402 772.4,404.5 773.2,407 774.1,409.5 775,412 776.9,413.6 778.8,415.2 780.6,416.9 782.5,418.5 784.4,420.1 786.2,421.8 788.1,423.4 790,425 792,423.6 794,422.2 796,420.8 798,419.4 800,418 802.2,416.5 804.5,415 806.8,413.5 809,412 810.5,414.2 812,416.3 813.5,418.5 815,420.7 816.5,422.8 818,425 820,426.5 822,428 824,429.5 826,431 828,432.5 830,434 832.1,432.7 834.3,431.4 836.4,430.1 838.6,428.9 840.7,427.6 842.9,426.3 845,425 846.7,423.1 848.3,421.2 850,419.3 851.7,417.4 853.3,415.6 855,413.7 856.7,411.8 858.3,409.9 860,408 861.2,410.1 862.5,412.2 863.8,414.4 865,416.5 866.2,418.6 867.5,420.8 868.8,422.9 870,425 872,426.6 874,428.2 876,429.8 878,431.4 880,433 882.5,432.2 885,431.3 887.5,430.5 890,429.7 892.5,428.8 895,428 897.1,426.6 899.2,425.2 901.4,423.9 903.5,422.5 905.6,421.1 907.8,419.8 909.9,418.4 912,417 913.6,418.9 915.2,420.8 916.9,422.6 918.5,424.5 920.1,426.4 921.8,428.2 923.4,430.1 925,432 927,433.2 929,434.4 931,435.6 933,436.8 935,438 937.5,437 940,436 942.5,435 945,434 947.5,433 950,432 952.3,430.9 954.7,429.8 957,428.7 959.3,427.6 961.7,426.4 964,425.3 966.3,424.2 968.7,423.1 971,422 972.3,424.2 973.7,426.3 975,428.5 976.3,430.7 977.7,432.8 979,435 980,437.5 981,440 982,442.5 983,445 984,447.5 985,450 986.2,452 987.3,454 988.5,456 989.7,458 990.8,460 992,462 994.2,463.2 996.3,464.3 998.5,465.5 1000.7,466.7 1002.8,467.8 1005,469 1007.2,470 1009.4,471 1011.7,472 1013.9,473 1016.1,474 1018.3,475 1020.6,476 1022.8,477 1025,478 1027.4,479 1029.9,480 1032.3,481 1034.7,482 1037.1,483 1039.6,484 1042,485 1044.2,483.7 1046.3,482.3 1048.5,481 1050.7,479.7 1052.8,478.3 1055,477 1057,475.7 1059,474.3 1061,473 1063,471.7 1065,470.3 1067,469 1069.6,468.4 1072.2,467.8 1074.8,467.2 1077.4,466.6 1080,466 1082.4,465.6 1084.8,465.2 1087.2,464.8 1089.6,464.4 1092,464 1094.2,463 1096.3,462 1098.5,461 1100.7,460 1102.8,459 1105,458 1107.4,457 1109.8,456 1112.2,455 1114.6,454 1117,453 1119,454.2 1121,455.3 1123,456.5 1125,457.7 1127,458.8 1129,460 1130.3,462.2 1131.7,464.4 1133,466.7 1134.3,468.9 1135.7,471.1 1137,473.3 1138.3,475.6 1139.7,477.8 1141,480 1141.8,482.3 1142.6,484.5 1143.5,486.8 1144.3,489.1 1145.1,491.4 1145.9,493.6 1146.7,495.9 1147.5,498.2 1148.4,500.5 1149.2,502.7 1150,505 1151,507.1 1152,509.2 1153,511.4 1154,513.5 1155,515.6 1156,517.8 1157,519.9 1158,522 1160.4,522.6 1162.9,523.1 1165.3,523.7 1167.8,524.2 1170.2,524.8 1172.7,525.3 1175.1,525.9 1177.6,526.4 1180,527 1182.5,526.5 1185,526 1187.5,525.5 1190,525 1192.5,524.5 1195,524 1197.4,524.2 1199.9,524.4 1202.3,524.7 1204.8,524.9 1207.2,525.1 1209.7,525.3 1212.1,525.6 1214.6,525.8 1217,526 1219,527.2 1221,528.4 1223,529.6 1225,530.8 1227,532 1228,534.2 1229,536.5 1230,538.8 1231,541 1232,543.2 1233,545.5 1234,547.8 1235,550 1236.1,552.1 1237.3,554.3 1238.4,556.4 1239.6,558.6 1240.7,560.7 1241.9,562.9 1243,565 1244.8,566.4 1246.6,567.8 1248.4,569.2 1250.2,570.6 1252,572 1253.7,570.3 1255.3,568.7 1257,567 1258.7,565.3 1260.3,563.7 1262,562 1263.7,560.2 1265.3,558.3 1267,556.5 1268.7,554.7 1270.3,552.8 1272,551 1273.8,549.3 1275.6,547.6 1277.4,545.9 1279.2,544.2 1281,542.5 1282.8,540.8 1284.6,539.1 1286.4,537.4 1288.2,535.7 1290,534 1292.5,533.5 1295,533 1297.5,532.5 1300,532 1302.5,531.5 1305,531 1307.5,530.5 1310,530 1312.5,530.7 1315,531.4 1317.5,532.1 1320,532.8 1322.5,533.5 1325,534.2 1327.5,534.9 1330,535.6 1332.5,536.3 1335,537 1337.5,537.5 1340,538 1342.5,538.5 1345,539 1347.5,539.5 1350,540 1352.5,540.5 1355,541 1357.5,541.5 1360,542 1362.4,542.6 1364.8,543.2 1367.2,543.8 1369.6,544.4 1372,545 1373.6,546.9 1375.2,548.8 1376.9,550.6 1378.5,552.5 1380.1,554.4 1381.8,556.2 1383.4,558.1 1385,560 1386.5,562.1 1388,564.2 1389.5,566.4 1391,568.5 1392.5,570.6 1394,572.8 1395.5,574.9 1397,577 1399.2,578.2 1401.3,579.3 1403.5,580.5 1405.7,581.7 1407.8,582.8 1410,584 1412.5,583 1415,582 1417.5,581 1420,580 1422,578.4 1424,576.8 1426,575.2 1428,573.6 1430,572 1431.4,569.9 1432.9,567.7 1434.3,565.6 1435.7,563.4 1437.1,561.3 1438.6,559.1 1440,557 1441.4,555 1442.8,553 1444.2,551 1445.6,549 1447,547 1448.6,548.9 1450.1,550.7 1451.7,552.6 1453.3,554.4 1454.9,556.3 1456.4,558.1 1458,560 1460.3,560.2 1462.7,560.3 1465,560.5 1467.3,560.7 1469.7,560.8 1472,561 1474.6,560.9 1477.1,560.7 1479.7,560.6 1482.3,560.4 1484.9,560.3 1487.4,560.1 1490,560 1492,558.8 1494,557.6 1496,556.4 1498,555.2 1500,554 1502.3,552.3 1504.7,550.7 1507,549 1508.8,550.5 1510.5,552 1512.2,553.5 1514,555 1515.4,556.8 1516.8,558.6 1518.2,560.4 1519.6,562.2 1521,564 1522.4,566 1523.8,568 1525.2,570 1526.6,572 1528,574 1529,576.3 1530,578.6 1531,580.9 1532,583.1 1533,585.4 1534,587.7 1535,590 1537.5,590.1 1540,590.2 1542.5,590.3 1545,590.4 1547.5,590.5 1550,590.6 1552.5,590.7 1555,590.8 1557.5,590.9 1560,591 1562.3,590 1564.5,589 1566.8,588 1569.1,587 1571.4,586 1573.6,585 1575.9,584 1578.2,583 1580.5,582 1582.7,581 1585,580 1587.3,579.2 1589.5,578.4 1591.8,577.5 1594.1,576.7 1596.4,575.9 1598.6,575.1 1600.9,574.3 1603.2,573.5 1605.5,572.6 1607.7,571.8 1610,571 1612.5,570.2 1615,569.5 1617.5,568.8 1620,568 1622,569.6 1624,571.2 1626,572.8 1628,574.4 1630,576 1631.3,578.1 1632.7,580.2 1634,582.3 1635.3,584.4 1636.7,586.6 1638,588.7 1639.3,590.8 1640.7,592.9 1642,595 1643.3,597 1644.6,599 1645.9,601 1647.2,603 1648.5,605 1649.8,607 1651.1,609 1652.4,611 1653.7,613 1655,615 1656.9,616.9 1658.8,618.8 1660.6,620.6 1662.5,622.5 1664.4,624.4 1666.2,626.2 1668.1,628.1 1670,630 1672.3,631 1674.7,632 1677,633 1679.3,634 1681.7,635 1684,636 1686.3,637 1688.7,638 1691,639 1693.4,638.5 1695.8,638 1698.2,637.5 1700.6,637 1703,636.5 1705.4,636 1707.8,635.5 1710.2,635 1712.6,634.5 1715,634 1717.6,633.9 1720.2,633.8 1722.8,633.7 1725.4,633.6 1728,633.5 1730.6,633.4 1733.2,633.3 1735.8,633.2 1738.4,633.1 1741,633 1743.5,632.3 1746,631.6 1748.5,630.9 1751,630.2 1753.5,629.5 1756,628.8 1758.5,628.1 1761,627.4 1763.5,626.7 1766,626 1768,624.7 1770,623.4 1772,622.1 1774,620.9 1776,619.6 1778,618.3 1780,617 1782.2,615.6 1784.4,614.2 1786.6,612.8 1788.8,611.4 1791,610 1791.6,612.5 1792.2,615 1792.8,617.5 1793.3,620 1793.9,622.5 1794.5,625 1795.1,627.5 1795.7,630 1796.2,632.5 1796.8,635 1797.4,637.5 1798,640 1799.1,642.1 1800.3,644.3 1801.4,646.4 1802.6,648.6 1803.7,650.7 1804.9,652.9 1806,655 1808,656.4 1810,657.8 1812,659.2 1814,660.6 1816,662 1818.5,662.7 1821,663.4 1823.5,664.1 1826,664.8 1828.5,665.5 1831,666.2 1833.5,666.9 1836,667.6 1838.5,668.3 1841,669 1843.3,668.2 1845.7,667.3 1848,666.5 1850.3,665.7 1852.7,664.8 1855,664 1857,662.3 1859,660.7 1861,659 1862.5,656.8 1864,654.5 1865.5,652.2 1867,650 1868.2,647.8 1869.5,645.5 1870.8,643.2 1872,641 1874,641.7 1876,642.3 1878,643 1880.3,643.7 1882.7,644.3 1885,645 1886.8,646.5 1888.5,648 1890.2,649.5 1892,651 1893.6,653.2 1895.2,655.4 1896.8,657.6 1898.4,659.8 1900,662 1901.6,664.1 1903.1,666.3 1904.7,668.4 1906.3,670.6 1907.9,672.7 1909.4,674.9 1911,677 1913.2,677.2 1915.5,677.5 1917.8,677.8 1920,678 1922.5,676.8 1925,675.5 1927.5,674.2 1930,673 1932,671.4 1934,669.8 1936,668.2 1938,666.6 1940,665 1941.5,663.2 1943,661.5 1944.5,659.8 1946,658 1947,656 1948,654 1949,652 1950,654 1951,656 1952,658 1954,660 1956,662 1958,664 1959.8,665.8 1961.5,667.5 1963.2,669.2 1965,671 1967.1,672.1 1969.3,673.3 1971.4,674.4 1973.6,675.6 1975.7,676.7 1977.9,677.9 1980,679 1982.5,680.1 1985,681.2 1987.5,682.4 1990,683.5"/>
<polyline fill="none" stroke="#00f" stroke-width="21.5" points="1986,687 2137,687"/>
</g>
<g font-size="73" text-anchor="end">
<text transform="translate(320.5,81) scale(0.955,1)">300</text>
<text transform="translate(320.5,211) scale(0.955,1)">250</text>
<text transform="translate(320.5,345) scale(0.955,1)">200</text>
<text transform="translate(320.5,474) scale(0.955,1)">150</text>
<text transform="translate(320.5,603) scale(0.955,1)">100</text>
<text transform="translate(320.5,731) scale(0.955,1)">50</text>
<text transform="translate(320.5,861.5) scale(0.955,1)">0</text>
<text transform="translate(320.5,992) scale(0.955,1)">-<tspan dx="6">50</tspan></text>
<text transform="translate(320.5,1121) scale(0.955,1)">-<tspan dx="8">100</tspan></text>
<text transform="translate(320.5,1250.5) scale(0.955,1)">-<tspan dx="8">150</tspan></text>
<text transform="translate(320.5,1380) scale(0.955,1)">-<tspan dx="8">200</tspan></text>
</g>
<g font-size="74" text-anchor="middle">
<text transform="translate(364.5,1460) scale(0.97,1)">10</text>
<text transform="translate(617,1460) scale(0.97,1)">15</text>
<text transform="translate(865.5,1460) scale(0.97,1)">20</text>
<text transform="translate(1120,1460) scale(0.97,1)">25</text>
<text transform="translate(1372.5,1460) scale(0.97,1)">30</text>
<text transform="translate(1624.5,1460) scale(0.97,1)">35</text>
<text transform="translate(1877.5,1460) scale(0.97,1)">40</text>
<text transform="translate(2129,1460) scale(0.97,1)">45</text>
</g>
<text x="905" y="1580.5" font-size="98" font-weight="bold" textLength="763" lengthAdjust="spacing">Time (seconds)</text>
<text transform="translate(116.5,1141.5) rotate(-90)" font-size="106" font-weight="bold" textLength="716" lengthAdjust="spacingAndGlyphs">Lateral Forces</text>
<g fill="none" stroke-width="4.5">
<path stroke="#000" d="M1008,1017 H1150.5"/><rect x="1072.25" y="1008" width="13.5" height="13.5" fill="#fff" stroke="#000"/>
<path stroke="#f00" d="M1008,1097.5 H1150.5"/><circle cx="1081.5" cy="1092.5" r="8.8" fill="#fff" stroke="#f00"/>
<path stroke="#00f" d="M1008,1173 H1150.5"/><path d="M1081.5,1159 L1092,1181.5 H1071 Z" fill="#fff" stroke="#00f"/><path stroke="#00f" d="M1066,1181.8 H1096.5"/>
</g>
<g font-size="62.5">
<text x="1167" y="1036.5" textLength="231" lengthAdjust="spacing">x=0.065</text>
<text x="1167" y="1117" textLength="231" lengthAdjust="spacing">x=0.085</text>
<text x="1167" y="1193" textLength="231" lengthAdjust="spacing">x=0.137</text>
</g>
</svg></body></html>
